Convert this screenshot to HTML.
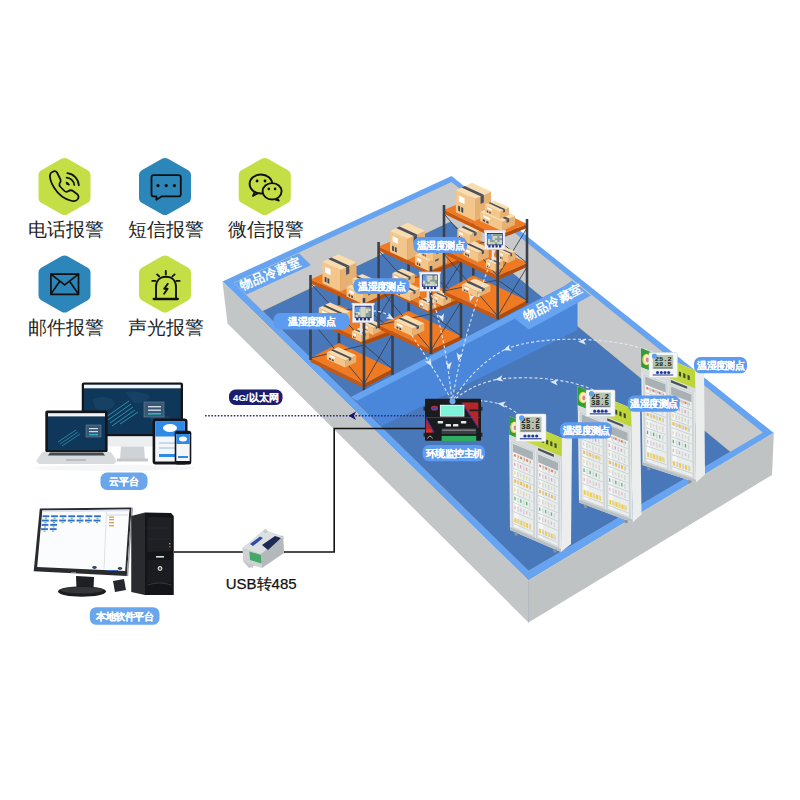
<!DOCTYPE html>
<html><head><meta charset="utf-8"><style>
html,body{margin:0;padding:0;background:#fff;width:800px;height:800px;overflow:hidden;font-family:"Liberation Sans",sans-serif}
svg{position:absolute;left:0;top:0;display:block}
</style></head><body>
<svg width="800" height="800" viewBox="0 0 800 800">
<polygon points="222.5,281.5 528.5,580.5 528.5,622.5 227.5,323.5" fill="#c2c6c7" />
<polygon points="528.5,580.5 773.8,433.0 772.0,475.0 528.5,622.5" fill="#bfc3c4" />
<line x1="528.5" y1="580.5" x2="528.5" y2="622.5" stroke="#a9b3bd" stroke-width="0.8" />
<polygon points="222.5,281.5 451.5,176.0 773.8,433.0 528.5,580.5" fill="#66a4f2" />
<polyline points="222.5,281.5 528.5,580.5 773.8,433.0" fill="none" stroke="#d8ccb0" stroke-width="0.7"/>
<defs><clipPath id="inner"><polygon points="234.0,283.0 451.5,182.5 762.5,432.7 528.5,570.8"/></clipPath></defs>
<polygon points="234.0,283.0 451.5,182.5 762.5,432.7 528.5,570.8" fill="#c8c9ca" />
<g clip-path="url(#inner)">
<polygon points="150.3,364.1 450.3,221.3 850.3,550.1 600.0,800.0 100.0,500.0" fill="#4978ba" />
<polyline points="150.3,364.1 450.3,221.3 850.3,550.1" fill="none" stroke="#d7cbb0" stroke-width="0.8"/>
</g>
<polyline points="234.0,283.0 451.5,182.5 762.5,432.7" fill="none" stroke="#d9ccb0" stroke-width="0.8"/>
<polygon points="234.0,283.0 299.0,253.2 311.0,265.2 246.5,294.5" fill="#66a4f2" />
<text transform="translate(242,290) rotate(-22.5)" font-size="12.5" font-weight="bold" fill="#fff" font-family="Liberation Sans, sans-serif">物品冷藏室</text>
<polygon points="337.7,262.0 340.3,262.0 340.3,344.0 337.7,344.0" fill="#3a414c" />
<polygon points="310.5,358.0 364.0,384.0 364.0,388.0 310.5,362.0" fill="#c9570f" />
<polygon points="364.0,384.0 392.5,369.0 392.5,373.0 364.0,388.0" fill="#b24a0a" />
<polygon points="310.5,358.0 364.0,384.0 392.5,369.0 339.0,343.0" fill="#ef7a22" />
<line x1="310.5" y1="320.0" x2="364.0" y2="384.0" stroke="#3a414c" stroke-width="0.9" />
<line x1="364.0" y1="345.0" x2="310.5" y2="358.0" stroke="#3a414c" stroke-width="0.9" />
<line x1="364.0" y1="345.0" x2="392.5" y2="369.0" stroke="#3a414c" stroke-width="0.9" />
<line x1="392.5" y1="334.0" x2="364.0" y2="384.0" stroke="#3a414c" stroke-width="0.9" />
<polygon points="345.0,367.5 326.8,359.2 326.8,352.2 345.0,360.5" fill="#f3c68c" />
<polygon points="345.0,367.5 356.2,362.2 356.2,355.2 345.0,360.5" fill="#e6b273" />
<polygon points="345.0,360.5 326.8,352.2 338.0,346.9 356.2,355.2" fill="#f9ddb0" />
<polygon points="348.9,358.6 351.2,357.6 333.0,349.3 330.7,350.3" fill="#4b505c" />
<polygon points="348.9,358.6 351.2,357.6 351.2,360.0 348.9,361.1" fill="#4b505c" />
<polygon points="335.0,357.2 329.5,354.7 329.5,356.6 335.0,359.1" fill="#ffffff" />
<polygon points="333.7,359.9 331.9,359.1 331.9,360.7 333.7,361.5" fill="#3f4654" />
<polygon points="330.8,358.6 329.0,357.7 329.0,359.3 330.8,360.2" fill="#3f4654" />
<polygon points="310.5,316.0 364.0,341.0 364.0,345.0 310.5,320.0" fill="#c9570f" />
<polygon points="364.0,341.0 392.5,330.0 392.5,334.0 364.0,345.0" fill="#b24a0a" />
<polygon points="310.5,316.0 364.0,341.0 392.5,330.0 339.0,305.0" fill="#ef7a22" />
<line x1="310.5" y1="283.5" x2="364.0" y2="341.0" stroke="#3a414c" stroke-width="0.9" />
<line x1="364.0" y1="307.0" x2="310.5" y2="316.0" stroke="#3a414c" stroke-width="0.9" />
<line x1="364.0" y1="307.0" x2="392.5" y2="330.0" stroke="#3a414c" stroke-width="0.9" />
<line x1="392.5" y1="294.0" x2="364.0" y2="341.0" stroke="#3a414c" stroke-width="0.9" />
<polygon points="338.8,324.4 318.8,315.2 318.8,307.7 338.8,316.9" fill="#f3c68c" />
<polygon points="338.8,324.4 350.0,319.1 350.0,311.6 338.8,316.9" fill="#e6b273" />
<polygon points="338.8,316.9 318.8,307.7 330.0,302.4 350.0,311.6" fill="#f9ddb0" />
<polygon points="342.7,315.0 344.9,314.0 324.9,304.8 322.7,305.9" fill="#4b505c" />
<polygon points="342.7,315.0 344.9,314.0 344.9,316.6 342.7,317.7" fill="#4b505c" />
<polygon points="327.8,313.2 321.8,310.5 321.8,312.5 327.8,315.2" fill="#ffffff" />
<polygon points="326.4,316.1 324.4,315.2 324.4,316.9 326.4,317.8" fill="#3f4654" />
<polygon points="323.2,314.6 321.2,313.7 321.2,315.4 323.2,316.4" fill="#3f4654" />
<polygon points="373.0,335.0 363.9,330.8 363.9,323.8 373.0,328.0" fill="#f3c68c" />
<polygon points="373.0,335.0 381.1,331.1 381.1,324.1 373.0,328.0" fill="#e6b273" />
<polygon points="373.0,328.0 363.9,323.8 372.0,320.0 381.1,324.1" fill="#f9ddb0" />
<polygon points="375.8,326.7 377.5,325.9 368.4,321.7 366.8,322.5" fill="#4b505c" />
<polygon points="375.8,326.7 377.5,325.9 377.5,328.3 375.8,329.1" fill="#4b505c" />
<polygon points="368.0,327.0 365.3,325.7 365.3,327.6 368.0,328.9" fill="#ffffff" />
<polygon points="367.4,330.0 366.5,329.6 366.5,331.2 367.4,331.6" fill="#3f4654" />
<polygon points="365.9,329.3 365.0,328.9 365.0,330.5 365.9,330.9" fill="#3f4654" />
<polygon points="361.0,342.0 351.9,337.8 351.9,331.3 361.0,335.5" fill="#f3c68c" />
<polygon points="361.0,342.0 369.1,338.1 369.1,331.6 361.0,335.5" fill="#e6b273" />
<polygon points="361.0,335.5 351.9,331.3 360.0,327.5 369.1,331.6" fill="#f9ddb0" />
<polygon points="363.8,334.2 365.5,333.4 356.4,329.2 354.8,330.0" fill="#4b505c" />
<polygon points="363.8,334.2 365.5,333.4 365.5,335.7 363.8,336.4" fill="#4b505c" />
<polygon points="356.0,334.4 353.3,333.1 353.3,334.9 356.0,336.1" fill="#ffffff" />
<polygon points="355.4,337.1 354.5,336.7 354.5,338.2 355.4,338.6" fill="#3f4654" />
<polygon points="353.9,336.5 353.0,336.1 353.0,337.6 353.9,338.0" fill="#3f4654" />
<polygon points="310.5,279.5 364.0,303.0 364.0,307.0 310.5,283.5" fill="#c9570f" />
<polygon points="364.0,303.0 392.5,290.0 392.5,294.0 364.0,307.0" fill="#b24a0a" />
<polygon points="310.5,279.5 364.0,303.0 392.5,290.0 339.0,266.5" fill="#ef7a22" />
<polygon points="340.5,291.5 322.5,283.3 322.5,261.8 340.5,270.0" fill="#f3c68c" />
<polygon points="340.5,291.5 356.5,283.9 356.5,262.4 340.5,270.0" fill="#e6b273" />
<polygon points="340.5,270.0 322.5,261.8 338.5,254.2 356.5,262.4" fill="#f9ddb0" />
<polygon points="346.1,267.3 349.3,265.8 331.3,257.6 328.1,259.1" fill="#4b505c" />
<polygon points="346.1,267.3 349.3,265.8 349.3,273.4 346.1,274.9" fill="#4b505c" />
<polygon points="330.6,269.3 325.2,266.9 325.2,272.7 330.6,275.1" fill="#ffffff" />
<polygon points="329.3,278.9 327.5,278.0 327.5,283.0 329.3,283.8" fill="#3f4654" />
<polygon points="326.5,277.6 324.7,276.7 324.7,281.7 326.5,282.5" fill="#3f4654" />
<polygon points="363.0,304.0 346.6,296.5 346.6,287.0 363.0,294.5" fill="#f3c68c" />
<polygon points="363.0,304.0 377.5,297.2 377.5,287.7 363.0,294.5" fill="#e6b273" />
<polygon points="363.0,294.5 346.6,287.0 361.1,280.2 377.5,287.7" fill="#f9ddb0" />
<polygon points="368.1,292.1 371.0,290.7 354.6,283.2 351.7,284.6" fill="#4b505c" />
<polygon points="368.1,292.1 371.0,290.7 371.0,294.1 368.1,295.4" fill="#4b505c" />
<polygon points="354.0,292.1 349.1,289.8 349.1,292.4 354.0,294.7" fill="#ffffff" />
<polygon points="352.9,296.0 351.2,295.3 351.2,297.5 352.9,298.2" fill="#3f4654" />
<polygon points="350.2,294.8 348.6,294.1 348.6,296.3 350.2,297.0" fill="#3f4654" />
<polygon points="366.0,293.0 352.4,286.8 352.4,278.8 366.0,285.0" fill="#f3c68c" />
<polygon points="366.0,293.0 375.9,288.3 375.9,280.3 366.0,285.0" fill="#e6b273" />
<polygon points="366.0,285.0 352.4,278.8 362.3,274.1 375.9,280.3" fill="#f9ddb0" />
<polygon points="369.5,283.4 371.5,282.4 357.8,276.2 355.8,277.1" fill="#4b505c" />
<polygon points="369.5,283.4 371.5,282.4 371.5,285.2 369.5,286.2" fill="#4b505c" />
<polygon points="358.5,283.0 354.4,281.1 354.4,283.3 358.5,285.2" fill="#ffffff" />
<polygon points="357.5,286.3 356.2,285.7 356.2,287.5 357.5,288.2" fill="#3f4654" />
<polygon points="355.4,285.3 354.0,284.7 354.0,286.5 355.4,287.2" fill="#3f4654" />
<polygon points="309.2,275.0 311.8,275.0 311.8,360.0 309.2,360.0" fill="#3a414c" />
<polygon points="391.2,285.0 393.8,285.0 393.8,375.0 391.2,375.0" fill="#3a414c" />
<polygon points="362.7,298.0 365.3,298.0 365.3,391.0 362.7,391.0" fill="#3a414c" />
<polygon points="407.3,230.0 409.9,230.0 409.9,312.0 407.3,312.0" fill="#3a414c" />
<polygon points="378.6,325.0 431.0,350.0 431.0,354.0 378.6,329.0" fill="#c9570f" />
<polygon points="431.0,350.0 461.0,336.0 461.0,340.0 431.0,354.0" fill="#b24a0a" />
<polygon points="378.6,325.0 431.0,350.0 461.0,336.0 408.6,311.0" fill="#ef7a22" />
<line x1="378.6" y1="287.0" x2="431.0" y2="350.0" stroke="#3a414c" stroke-width="0.9" />
<line x1="431.0" y1="314.0" x2="378.6" y2="325.0" stroke="#3a414c" stroke-width="0.9" />
<line x1="431.0" y1="314.0" x2="461.0" y2="336.0" stroke="#3a414c" stroke-width="0.9" />
<line x1="461.0" y1="302.0" x2="431.0" y2="350.0" stroke="#3a414c" stroke-width="0.9" />
<polygon points="412.5,336.2 394.3,327.9 394.3,320.4 412.5,328.8" fill="#f3c68c" />
<polygon points="412.5,336.2 424.3,330.7 424.3,323.2 412.5,328.8" fill="#e6b273" />
<polygon points="412.5,328.8 394.3,320.4 406.1,314.9 424.3,323.2" fill="#f9ddb0" />
<polygon points="416.6,326.8 419.0,325.7 400.8,317.4 398.4,318.5" fill="#4b505c" />
<polygon points="416.6,326.8 419.0,325.7 419.0,328.3 416.6,329.4" fill="#4b505c" />
<polygon points="402.5,325.5 397.0,323.0 397.0,325.1 402.5,327.5" fill="#ffffff" />
<polygon points="401.2,328.5 399.4,327.6 399.4,329.4 401.2,330.2" fill="#3f4654" />
<polygon points="398.3,327.1 396.5,326.3 396.5,328.0 398.3,328.9" fill="#3f4654" />
<polygon points="378.6,283.0 431.0,310.0 431.0,314.0 378.6,287.0" fill="#c9570f" />
<polygon points="431.0,310.0 461.0,298.0 461.0,302.0 431.0,314.0" fill="#b24a0a" />
<polygon points="378.6,283.0 431.0,310.0 461.0,298.0 408.6,271.0" fill="#ef7a22" />
<line x1="378.6" y1="250.5" x2="431.0" y2="310.0" stroke="#3a414c" stroke-width="0.9" />
<line x1="431.0" y1="275.0" x2="378.6" y2="283.0" stroke="#3a414c" stroke-width="0.9" />
<line x1="431.0" y1="275.0" x2="461.0" y2="298.0" stroke="#3a414c" stroke-width="0.9" />
<line x1="461.0" y1="262.5" x2="431.0" y2="310.0" stroke="#3a414c" stroke-width="0.9" />
<polygon points="405.0,287.0 392.3,281.2 392.3,273.2 405.0,279.0" fill="#f3c68c" />
<polygon points="405.0,287.0 414.9,282.3 414.9,274.3 405.0,279.0" fill="#e6b273" />
<polygon points="405.0,279.0 392.3,273.2 402.2,268.5 414.9,274.3" fill="#f9ddb0" />
<polygon points="408.5,277.4 410.5,276.4 397.7,270.6 395.8,271.5" fill="#4b505c" />
<polygon points="408.5,277.4 410.5,276.4 410.5,279.2 408.5,280.2" fill="#4b505c" />
<polygon points="398.0,277.2 394.2,275.5 394.2,277.6 398.0,279.4" fill="#ffffff" />
<polygon points="397.1,280.6 395.8,280.0 395.8,281.8 397.1,282.4" fill="#3f4654" />
<polygon points="395.1,279.7 393.8,279.1 393.8,280.9 395.1,281.5" fill="#3f4654" />
<polygon points="443.0,306.0 433.0,301.4 433.0,294.4 443.0,299.0" fill="#f3c68c" />
<polygon points="443.0,306.0 451.1,302.1 451.1,295.1 443.0,299.0" fill="#e6b273" />
<polygon points="443.0,299.0 433.0,294.4 441.1,290.6 451.1,295.1" fill="#f9ddb0" />
<polygon points="445.8,297.7 447.5,296.9 437.5,292.3 435.8,293.1" fill="#4b505c" />
<polygon points="445.8,297.7 447.5,296.9 447.5,299.3 445.8,300.1" fill="#4b505c" />
<polygon points="437.5,297.7 434.5,296.4 434.5,298.3 437.5,299.6" fill="#ffffff" />
<polygon points="436.8,300.7 435.8,300.3 435.8,301.9 436.8,302.3" fill="#3f4654" />
<polygon points="435.2,300.0 434.2,299.5 434.2,301.1 435.2,301.6" fill="#3f4654" />
<polygon points="410.0,301.0 393.6,293.5 393.6,285.5 410.0,293.0" fill="#f3c68c" />
<polygon points="410.0,301.0 419.9,296.3 419.9,288.3 410.0,293.0" fill="#e6b273" />
<polygon points="410.0,293.0 393.6,285.5 403.6,280.8 419.9,288.3" fill="#f9ddb0" />
<polygon points="413.5,291.4 415.5,290.4 399.1,282.9 397.1,283.9" fill="#4b505c" />
<polygon points="413.5,291.4 415.5,290.4 415.5,293.2 413.5,294.2" fill="#4b505c" />
<polygon points="401.0,290.3 396.1,288.1 396.1,290.2 401.0,292.5" fill="#ffffff" />
<polygon points="399.9,293.6 398.2,292.8 398.2,294.6 399.9,295.4" fill="#3f4654" />
<polygon points="397.2,292.4 395.6,291.6 395.6,293.5 397.2,294.2" fill="#3f4654" />
<polygon points="428.0,311.0 418.9,306.8 418.9,300.8 428.0,305.0" fill="#f3c68c" />
<polygon points="428.0,311.0 436.1,307.1 436.1,301.1 428.0,305.0" fill="#e6b273" />
<polygon points="428.0,305.0 418.9,300.8 427.0,297.0 436.1,301.1" fill="#f9ddb0" />
<polygon points="430.8,303.7 432.5,302.9 423.4,298.7 421.8,299.5" fill="#4b505c" />
<polygon points="430.8,303.7 432.5,302.9 432.5,305.0 430.8,305.8" fill="#4b505c" />
<polygon points="423.0,303.8 420.3,302.5 420.3,304.2 423.0,305.4" fill="#ffffff" />
<polygon points="422.4,306.3 421.5,305.9 421.5,307.3 422.4,307.7" fill="#3f4654" />
<polygon points="420.9,305.7 420.0,305.2 420.0,306.6 420.9,307.0" fill="#3f4654" />
<polygon points="378.6,246.5 431.0,271.0 431.0,275.0 378.6,250.5" fill="#c9570f" />
<polygon points="431.0,271.0 461.0,258.5 461.0,262.5 431.0,275.0" fill="#b24a0a" />
<polygon points="378.6,246.5 431.0,271.0 461.0,258.5 408.6,234.0" fill="#ef7a22" />
<polygon points="407.5,260.0 390.0,252.0 390.0,231.0 407.5,239.0" fill="#f3c68c" />
<polygon points="407.5,260.0 425.0,251.7 425.0,230.7 407.5,239.0" fill="#e6b273" />
<polygon points="407.5,239.0 390.0,231.0 407.5,222.7 425.0,230.7" fill="#f9ddb0" />
<polygon points="413.6,236.1 417.1,234.4 399.6,226.4 396.1,228.1" fill="#4b505c" />
<polygon points="413.6,236.1 417.1,234.4 417.1,241.8 413.6,243.4" fill="#4b505c" />
<polygon points="397.9,238.4 392.6,236.0 392.6,241.6 397.9,244.0" fill="#ffffff" />
<polygon points="396.7,247.7 394.9,246.9 394.9,251.7 396.7,252.5" fill="#3f4654" />
<polygon points="393.9,246.4 392.1,245.6 392.1,250.4 393.9,251.2" fill="#3f4654" />
<polygon points="428.8,271.2 415.1,265.0 415.1,255.0 428.8,261.2" fill="#f3c68c" />
<polygon points="428.8,271.2 446.8,262.7 446.8,252.7 428.8,261.2" fill="#e6b273" />
<polygon points="428.8,261.2 415.1,255.0 433.2,246.4 446.8,252.7" fill="#f9ddb0" />
<polygon points="435.1,258.3 438.7,256.5 425.1,250.3 421.4,252.0" fill="#4b505c" />
<polygon points="435.1,258.3 438.7,256.5 438.7,260.0 435.1,261.8" fill="#4b505c" />
<polygon points="421.3,259.6 417.2,257.7 417.2,260.4 421.3,262.3" fill="#ffffff" />
<polygon points="420.3,263.9 418.9,263.3 418.9,265.6 420.3,266.2" fill="#3f4654" />
<polygon points="418.1,262.9 416.8,262.3 416.8,264.6 418.1,265.2" fill="#3f4654" />
<polygon points="433.0,261.0 421.2,255.6 421.2,247.6 433.0,253.0" fill="#f3c68c" />
<polygon points="433.0,261.0 442.9,256.3 442.9,248.3 433.0,253.0" fill="#e6b273" />
<polygon points="433.0,253.0 421.2,247.6 431.1,242.9 442.9,248.3" fill="#f9ddb0" />
<polygon points="436.5,251.4 438.5,250.4 426.7,245.0 424.7,245.9" fill="#4b505c" />
<polygon points="436.5,251.4 438.5,250.4 438.5,253.2 436.5,254.2" fill="#4b505c" />
<polygon points="426.5,251.5 423.0,249.8 423.0,252.0 426.5,253.6" fill="#ffffff" />
<polygon points="425.7,254.8 424.5,254.3 424.5,256.1 425.7,256.7" fill="#3f4654" />
<polygon points="423.8,254.0 422.6,253.4 422.6,255.3 423.8,255.8" fill="#3f4654" />
<polygon points="377.3,242.0 379.9,242.0 379.9,328.0 377.3,328.0" fill="#3a414c" />
<polygon points="459.7,254.0 462.3,254.0 462.3,338.0 459.7,338.0" fill="#3a414c" />
<polygon points="429.7,266.0 432.3,266.0 432.3,354.0 429.7,354.0" fill="#3a414c" />
<polygon points="472.0,193.0 474.6,193.0 474.6,276.5 472.0,276.5" fill="#3a414c" />
<polygon points="444.0,291.0 497.7,316.0 497.7,320.0 444.0,295.0" fill="#c9570f" />
<polygon points="497.7,316.0 527.0,300.5 527.0,304.5 497.7,320.0" fill="#b24a0a" />
<polygon points="444.0,291.0 497.7,316.0 527.0,300.5 473.3,275.5" fill="#ef7a22" />
<line x1="444.0" y1="254.0" x2="497.7" y2="316.0" stroke="#3a414c" stroke-width="0.9" />
<line x1="497.7" y1="280.0" x2="444.0" y2="291.0" stroke="#3a414c" stroke-width="0.9" />
<line x1="497.7" y1="280.0" x2="527.0" y2="300.5" stroke="#3a414c" stroke-width="0.9" />
<line x1="527.0" y1="267.0" x2="497.7" y2="316.0" stroke="#3a414c" stroke-width="0.9" />
<polygon points="477.4,297.6 461.9,290.5 461.9,284.5 477.4,291.6" fill="#f3c68c" />
<polygon points="477.4,297.6 490.4,291.4 490.4,285.4 477.4,291.6" fill="#e6b273" />
<polygon points="477.4,291.6 461.9,284.5 475.0,278.4 490.4,285.4" fill="#f9ddb0" />
<polygon points="482.0,289.4 484.6,288.2 469.1,281.1 466.5,282.4" fill="#4b505c" />
<polygon points="482.0,289.4 484.6,288.2 484.6,290.3 482.0,291.5" fill="#4b505c" />
<polygon points="468.9,288.8 464.3,286.7 464.3,288.3 468.9,290.4" fill="#ffffff" />
<polygon points="467.8,291.1 466.3,290.4 466.3,291.8 467.8,292.5" fill="#3f4654" />
<polygon points="465.3,290.0 463.8,289.3 463.8,290.7 465.3,291.4" fill="#3f4654" />
<polygon points="444.0,250.0 497.7,276.0 497.7,280.0 444.0,254.0" fill="#c9570f" />
<polygon points="497.7,276.0 527.0,263.0 527.0,267.0 497.7,280.0" fill="#b24a0a" />
<polygon points="444.0,250.0 497.7,276.0 527.0,263.0 473.3,237.0" fill="#ef7a22" />
<line x1="444.0" y1="213.8" x2="497.7" y2="276.0" stroke="#3a414c" stroke-width="0.9" />
<line x1="497.7" y1="239.8" x2="444.0" y2="250.0" stroke="#3a414c" stroke-width="0.9" />
<line x1="497.7" y1="239.8" x2="527.0" y2="263.0" stroke="#3a414c" stroke-width="0.9" />
<line x1="527.0" y1="228.0" x2="497.7" y2="276.0" stroke="#3a414c" stroke-width="0.9" />
<polygon points="470.0,244.0 457.3,238.2 457.3,229.2 470.0,235.0" fill="#f3c68c" />
<polygon points="470.0,244.0 481.8,238.4 481.8,229.4 470.0,235.0" fill="#e6b273" />
<polygon points="470.0,235.0 457.3,229.2 469.0,223.6 481.8,229.4" fill="#f9ddb0" />
<polygon points="474.1,233.1 476.5,231.9 463.7,226.1 461.4,227.2" fill="#4b505c" />
<polygon points="474.1,233.1 476.5,231.9 476.5,235.1 474.1,236.2" fill="#4b505c" />
<polygon points="463.0,233.4 459.2,231.7 459.2,234.1 463.0,235.8" fill="#ffffff" />
<polygon points="462.1,237.2 460.8,236.7 460.8,238.7 462.1,239.3" fill="#3f4654" />
<polygon points="460.1,236.3 458.8,235.7 458.8,237.8 460.1,238.4" fill="#3f4654" />
<polygon points="508.0,263.0 498.9,258.8 498.9,250.8 508.0,255.0" fill="#f3c68c" />
<polygon points="508.0,263.0 515.2,259.6 515.2,251.6 508.0,255.0" fill="#e6b273" />
<polygon points="508.0,255.0 498.9,250.8 506.1,247.4 515.2,251.6" fill="#f9ddb0" />
<polygon points="510.5,253.8 512.0,253.1 502.9,249.0 501.4,249.6" fill="#4b505c" />
<polygon points="510.5,253.8 512.0,253.1 512.0,255.9 510.5,256.6" fill="#4b505c" />
<polygon points="503.0,254.2 500.3,252.9 500.3,255.1 503.0,256.3" fill="#ffffff" />
<polygon points="502.4,257.6 501.5,257.2 501.5,259.0 502.4,259.5" fill="#3f4654" />
<polygon points="500.9,257.0 500.0,256.5 500.0,258.4 500.9,258.8" fill="#3f4654" />
<polygon points="478.0,262.0 463.5,255.3 463.5,246.3 478.0,253.0" fill="#f3c68c" />
<polygon points="478.0,262.0 488.8,256.9 488.8,247.9 478.0,253.0" fill="#e6b273" />
<polygon points="478.0,253.0 463.5,246.3 474.3,241.2 488.8,247.9" fill="#f9ddb0" />
<polygon points="481.8,251.2 484.0,250.2 469.4,243.5 467.3,244.5" fill="#4b505c" />
<polygon points="481.8,251.2 484.0,250.2 484.0,253.3 481.8,254.4" fill="#4b505c" />
<polygon points="470.0,251.0 465.6,249.0 465.6,251.4 470.0,253.4" fill="#ffffff" />
<polygon points="469.0,254.7 467.5,254.1 467.5,256.1 469.0,256.8" fill="#3f4654" />
<polygon points="466.7,253.7 465.2,253.0 465.2,255.1 466.7,255.7" fill="#3f4654" />
<polygon points="495.0,271.5 485.9,267.3 485.9,260.3 495.0,264.5" fill="#f3c68c" />
<polygon points="495.0,271.5 503.1,267.6 503.1,260.6 495.0,264.5" fill="#e6b273" />
<polygon points="495.0,264.5 485.9,260.3 494.0,256.5 503.1,260.6" fill="#f9ddb0" />
<polygon points="497.8,263.2 499.5,262.4 490.4,258.2 488.8,259.0" fill="#4b505c" />
<polygon points="497.8,263.2 499.5,262.4 499.5,264.8 497.8,265.6" fill="#4b505c" />
<polygon points="490.0,263.5 487.3,262.2 487.3,264.1 490.0,265.4" fill="#ffffff" />
<polygon points="489.4,266.5 488.5,266.1 488.5,267.7 489.4,268.1" fill="#3f4654" />
<polygon points="487.9,265.8 487.0,265.4 487.0,267.0 487.9,267.4" fill="#3f4654" />
<polygon points="444.0,209.8 497.7,235.8 497.7,239.8 444.0,213.8" fill="#c9570f" />
<polygon points="497.7,235.8 527.0,224.0 527.0,228.0 497.7,239.8" fill="#b24a0a" />
<polygon points="444.0,209.8 497.7,235.8 527.0,224.0 473.3,197.9" fill="#ef7a22" />
<polygon points="475.0,221.0 455.9,212.3 455.9,190.3 475.0,199.0" fill="#f3c68c" />
<polygon points="475.0,221.0 491.0,213.4 491.0,191.4 475.0,199.0" fill="#e6b273" />
<polygon points="475.0,199.0 455.9,190.3 471.9,182.7 491.0,191.4" fill="#f9ddb0" />
<polygon points="480.6,196.3 483.8,194.8 464.7,186.1 461.5,187.6" fill="#4b505c" />
<polygon points="480.6,196.3 483.8,194.8 483.8,202.5 480.6,204.0" fill="#4b505c" />
<polygon points="464.5,198.2 458.8,195.5 458.8,201.5 464.5,204.1" fill="#ffffff" />
<polygon points="463.2,207.9 461.3,207.0 461.3,212.1 463.2,212.9" fill="#3f4654" />
<polygon points="460.1,206.5 458.2,205.6 458.2,210.7 460.1,211.5" fill="#3f4654" />
<polygon points="502.0,231.0 480.2,221.0 480.2,212.0 502.0,222.0" fill="#f3c68c" />
<polygon points="502.0,231.0 515.0,224.8 515.0,215.8 502.0,222.0" fill="#e6b273" />
<polygon points="502.0,222.0 480.2,212.0 493.2,205.9 515.0,215.8" fill="#f9ddb0" />
<polygon points="506.6,219.8 509.2,218.6 487.3,208.6 484.7,209.9" fill="#4b505c" />
<polygon points="506.6,219.8 509.2,218.6 509.2,221.8 506.6,223.0" fill="#4b505c" />
<polygon points="490.0,218.1 483.5,215.1 483.5,217.6 490.0,220.6" fill="#ffffff" />
<polygon points="488.5,221.7 486.3,220.7 486.3,222.7 488.5,223.7" fill="#3f4654" />
<polygon points="485.0,220.1 482.8,219.1 482.8,221.1 485.0,222.1" fill="#3f4654" />
<polygon points="500.0,219.0 485.0,212.1 485.0,204.6 500.0,211.5" fill="#f3c68c" />
<polygon points="500.0,219.0 509.0,214.7 509.0,207.2 500.0,211.5" fill="#e6b273" />
<polygon points="500.0,211.5 485.0,204.6 494.0,200.4 509.0,207.2" fill="#f9ddb0" />
<polygon points="503.2,210.0 505.0,209.1 490.0,202.3 488.2,203.1" fill="#4b505c" />
<polygon points="503.2,210.0 505.0,209.1 505.0,211.8 503.2,212.6" fill="#4b505c" />
<polygon points="491.8,209.1 487.3,207.0 487.3,209.0 491.8,211.1" fill="#ffffff" />
<polygon points="490.7,212.1 489.2,211.4 489.2,213.2 490.7,213.8" fill="#3f4654" />
<polygon points="488.3,211.0 486.8,210.3 486.8,212.1 488.3,212.7" fill="#3f4654" />
<polygon points="442.7,205.0 445.3,205.0 445.3,293.0 442.7,293.0" fill="#3a414c" />
<polygon points="525.7,219.0 528.3,219.0 528.3,303.0 525.7,303.0" fill="#3a414c" />
<polygon points="496.4,231.0 499.0,231.0 499.0,319.5 496.4,319.5" fill="#3a414c" />
<polygon points="351.0,397.0 570.0,283.2 577.5,286.3 577.5,330.2 381.8,426.0" fill="#4a86da" />
<polygon points="351.0,397.0 570.0,283.2 577.5,286.3 357.0,400.7" fill="#66a4f2" />
<polygon points="515.0,318.7 528.8,329.4 591.0,295.5 572.0,280.5 565.0,285.8" fill="#66a4f2" />
<text transform="translate(526,320.5) rotate(-27)" font-size="12.5" font-weight="bold" fill="#fff" font-family="Liberation Sans, sans-serif">物品冷藏室</text>
<rect x="359.9" y="322.5" width="2.4" height="11" fill="#dfe3e8"/>
<rect x="351.7" y="302.9" width="22.9" height="2" fill="#e9edf2"/>
<rect x="352.5" y="303.8" width="21.2" height="18.8" fill="#f1f4f7" stroke="#c5ccd4" stroke-width="0.5"/>
<rect x="354.7" y="305.8" width="16.9" height="12.4" fill="#2b3a86"/>
<rect x="355.5" y="306.8" width="15.2" height="10.4" fill="#8d9c96"/>
<rect x="355.5" y="308.8" width="2.5" height="2.1" fill="#d4dcc8"/>
<rect x="355.5" y="310.9" width="2.5" height="2.1" fill="#d4dcc8"/>
<rect x="355.5" y="315.1" width="2.5" height="2.1" fill="#d4dcc8"/>
<rect x="358.0" y="308.8" width="2.5" height="2.1" fill="#d4dcc8"/>
<rect x="358.0" y="310.9" width="2.5" height="2.1" fill="#d4dcc8"/>
<rect x="358.0" y="313.0" width="2.5" height="2.1" fill="#d4dcc8"/>
<rect x="360.6" y="306.8" width="2.5" height="2.1" fill="#d4dcc8"/>
<rect x="360.6" y="308.8" width="2.5" height="2.1" fill="#d4dcc8"/>
<rect x="360.6" y="310.9" width="2.5" height="2.1" fill="#d4dcc8"/>
<rect x="360.6" y="313.0" width="2.5" height="2.1" fill="#d4dcc8"/>
<rect x="360.6" y="315.1" width="2.5" height="2.1" fill="#d4dcc8"/>
<rect x="363.1" y="306.8" width="2.5" height="2.1" fill="#d4dcc8"/>
<rect x="363.1" y="308.8" width="2.5" height="2.1" fill="#d4dcc8"/>
<rect x="363.1" y="310.9" width="2.5" height="2.1" fill="#d4dcc8"/>
<rect x="363.1" y="313.0" width="2.5" height="2.1" fill="#d4dcc8"/>
<rect x="363.1" y="315.1" width="2.5" height="2.1" fill="#d4dcc8"/>
<rect x="365.7" y="308.8" width="2.5" height="2.1" fill="#d4dcc8"/>
<rect x="365.7" y="310.9" width="2.5" height="2.1" fill="#d4dcc8"/>
<rect x="368.2" y="308.8" width="2.5" height="2.1" fill="#d4dcc8"/>
<rect x="355.5" y="306.8" width="4.1" height="5.2" fill="#5a9af0"/>
<rect x="356.1" y="318.0" width="2.4" height="2.4" fill="#24358a"/>
<rect x="359.9" y="318.0" width="2.4" height="2.4" fill="#24358a"/>
<rect x="363.7" y="318.0" width="2.4" height="2.4" fill="#24358a"/>
<rect x="367.5" y="318.0" width="2.4" height="2.4" fill="#24358a"/>
<rect x="426.7" y="291.2" width="2.4" height="11" fill="#dfe3e8"/>
<rect x="418.9" y="271.7" width="21.9" height="2" fill="#e9edf2"/>
<rect x="419.8" y="272.5" width="20.2" height="18.7" fill="#f1f4f7" stroke="#c5ccd4" stroke-width="0.5"/>
<rect x="421.9" y="274.5" width="15.8" height="12.3" fill="#2b3a86"/>
<rect x="422.8" y="275.5" width="14.2" height="10.3" fill="#8d9c96"/>
<rect x="422.8" y="279.6" width="2.4" height="2.1" fill="#d4dcc8"/>
<rect x="422.8" y="281.7" width="2.4" height="2.1" fill="#d4dcc8"/>
<rect x="425.1" y="275.5" width="2.4" height="2.1" fill="#d4dcc8"/>
<rect x="425.1" y="277.6" width="2.4" height="2.1" fill="#d4dcc8"/>
<rect x="425.1" y="283.8" width="2.4" height="2.1" fill="#d4dcc8"/>
<rect x="427.5" y="275.5" width="2.4" height="2.1" fill="#d4dcc8"/>
<rect x="427.5" y="277.6" width="2.4" height="2.1" fill="#d4dcc8"/>
<rect x="427.5" y="279.6" width="2.4" height="2.1" fill="#d4dcc8"/>
<rect x="427.5" y="283.8" width="2.4" height="2.1" fill="#d4dcc8"/>
<rect x="429.9" y="275.5" width="2.4" height="2.1" fill="#d4dcc8"/>
<rect x="429.9" y="277.6" width="2.4" height="2.1" fill="#d4dcc8"/>
<rect x="429.9" y="281.7" width="2.4" height="2.1" fill="#d4dcc8"/>
<rect x="429.9" y="283.8" width="2.4" height="2.1" fill="#d4dcc8"/>
<rect x="432.2" y="281.7" width="2.4" height="2.1" fill="#d4dcc8"/>
<rect x="432.2" y="283.8" width="2.4" height="2.1" fill="#d4dcc8"/>
<rect x="434.6" y="275.5" width="2.4" height="2.1" fill="#d4dcc8"/>
<rect x="434.6" y="277.6" width="2.4" height="2.1" fill="#d4dcc8"/>
<rect x="434.6" y="283.8" width="2.4" height="2.1" fill="#d4dcc8"/>
<rect x="422.8" y="275.5" width="3.8" height="5.2" fill="#5a9af0"/>
<rect x="423.4" y="286.7" width="2.2" height="2.4" fill="#24358a"/>
<rect x="426.9" y="286.7" width="2.2" height="2.4" fill="#24358a"/>
<rect x="430.5" y="286.7" width="2.2" height="2.4" fill="#24358a"/>
<rect x="434.0" y="286.7" width="2.2" height="2.4" fill="#24358a"/>
<rect x="491.7" y="249.6" width="2.4" height="11" fill="#dfe3e8"/>
<rect x="483.9" y="230.2" width="21.9" height="2" fill="#e9edf2"/>
<rect x="484.7" y="231.0" width="20.3" height="18.6" fill="#f1f4f7" stroke="#c5ccd4" stroke-width="0.5"/>
<rect x="486.9" y="233.0" width="15.9" height="12.3" fill="#2b3a86"/>
<rect x="487.7" y="234.0" width="14.3" height="10.3" fill="#8d9c96"/>
<rect x="487.7" y="236.1" width="2.4" height="2.1" fill="#d4dcc8"/>
<rect x="487.7" y="238.1" width="2.4" height="2.1" fill="#d4dcc8"/>
<rect x="487.7" y="240.2" width="2.4" height="2.1" fill="#d4dcc8"/>
<rect x="487.7" y="242.2" width="2.4" height="2.1" fill="#d4dcc8"/>
<rect x="490.1" y="234.0" width="2.4" height="2.1" fill="#d4dcc8"/>
<rect x="490.1" y="242.2" width="2.4" height="2.1" fill="#d4dcc8"/>
<rect x="492.5" y="236.1" width="2.4" height="2.1" fill="#d4dcc8"/>
<rect x="492.5" y="238.1" width="2.4" height="2.1" fill="#d4dcc8"/>
<rect x="492.5" y="242.2" width="2.4" height="2.1" fill="#d4dcc8"/>
<rect x="494.9" y="236.1" width="2.4" height="2.1" fill="#d4dcc8"/>
<rect x="494.9" y="240.2" width="2.4" height="2.1" fill="#d4dcc8"/>
<rect x="497.2" y="242.2" width="2.4" height="2.1" fill="#d4dcc8"/>
<rect x="499.6" y="236.1" width="2.4" height="2.1" fill="#d4dcc8"/>
<rect x="499.6" y="240.2" width="2.4" height="2.1" fill="#d4dcc8"/>
<rect x="499.6" y="242.2" width="2.4" height="2.1" fill="#d4dcc8"/>
<rect x="487.7" y="234.0" width="3.8" height="5.1" fill="#5a9af0"/>
<rect x="488.3" y="245.1" width="2.2" height="2.4" fill="#24358a"/>
<rect x="491.9" y="245.1" width="2.2" height="2.4" fill="#24358a"/>
<rect x="495.5" y="245.1" width="2.2" height="2.4" fill="#24358a"/>
<rect x="499.0" y="245.1" width="2.2" height="2.4" fill="#24358a"/>
<path d="M662,356 C620,335 540,335 506,349 C480,362 462,385 452,402" fill="none" stroke="#dfe9fb" stroke-width="1.1" stroke-dasharray="3 2.2" opacity="0.95"/>
<path transform="translate(582.0,341.5) rotate(180)" d="M4,0 L-4,-3.2 L-2,0 L-4,3.2 Z" fill="#dde8fb"/>
<path transform="translate(507.0,349.0) rotate(160)" d="M4,0 L-4,-3.2 L-2,0 L-4,3.2 Z" fill="#dde8fb"/>
<path d="M598,392 C570,378 530,376 499,379 C478,383 462,392 452,402" fill="none" stroke="#dfe9fb" stroke-width="1.1" stroke-dasharray="3 2.2" opacity="0.95"/>
<path transform="translate(554.0,382.0) rotate(185)" d="M4,0 L-4,-3.2 L-2,0 L-4,3.2 Z" fill="#dde8fb"/>
<path transform="translate(499.0,379.0) rotate(170)" d="M4,0 L-4,-3.2 L-2,0 L-4,3.2 Z" fill="#dde8fb"/>
<path d="M520,416 C505,402 485,398 452,402" fill="none" stroke="#dfe9fb" stroke-width="1.1" stroke-dasharray="3 2.2" opacity="0.95"/>
<path transform="translate(501.5,404.0) rotate(190)" d="M4,0 L-4,-3.2 L-2,0 L-4,3.2 Z" fill="#dde8fb"/>
<path d="M373,311 Q383,311 391,317" fill="none" stroke="#dfe9fb" stroke-width="1.1" stroke-dasharray="3 2.2" opacity="0.95"/>
<path transform="translate(390.6,317.4) rotate(30)" d="M4,0 L-4,-3.2 L-2,0 L-4,3.2 Z" fill="#dde8fb"/>
<path d="M411.8,335.3 Q432,365 452,401" fill="none" stroke="#dfe9fb" stroke-width="1.1" stroke-dasharray="3 2.2" opacity="0.95"/>
<path transform="translate(429.7,363.0) rotate(58)" d="M4,0 L-4,-3.2 L-2,0 L-4,3.2 Z" fill="#dde8fb"/>
<path d="M430,290 C440,320 448,360 452,402" fill="none" stroke="#dfe9fb" stroke-width="1.1" stroke-dasharray="3 2.2" opacity="0.95"/>
<path transform="translate(442.0,318.0) rotate(75)" d="M4,0 L-4,-3.2 L-2,0 L-4,3.2 Z" fill="#dde8fb"/>
<path transform="translate(449.0,366.0) rotate(85)" d="M4,0 L-4,-3.2 L-2,0 L-4,3.2 Z" fill="#dde8fb"/>
<path d="M495,250 C480,290 462,340 452,402" fill="none" stroke="#dfe9fb" stroke-width="1.1" stroke-dasharray="3 2.2" opacity="0.95"/>
<path transform="translate(471.0,298.0) rotate(105)" d="M4,0 L-4,-3.2 L-2,0 L-4,3.2 Z" fill="#dde8fb"/>
<path transform="translate(459.0,357.0) rotate(100)" d="M4,0 L-4,-3.2 L-2,0 L-4,3.2 Z" fill="#dde8fb"/>
<polygon points="695.0,370.0 704.0,366.0 705.0,474.5 696.0,482.5" fill="#eceeee" />
<polygon points="641.0,348.0 695.0,370.0 696.0,482.5 642.5,465.0" fill="#e4e7e8" />
<linearGradient id="hg641" x1="0" y1="0" x2="1" y2="0"><stop offset="0" stop-color="#2f9a3a"/><stop offset="0.2" stop-color="#3aa23a"/><stop offset="0.22" stop-color="#c9dd47"/><stop offset="1" stop-color="#bcd43a"/></linearGradient>
<polygon points="641.0,348.0 695.0,370.0 695.2,388.6 641.2,367.3" fill="url(#hg641)" />
<ellipse cx="646.5" cy="359.5" rx="4.2" ry="5.8" fill="#e8d848"/><ellipse cx="647.1" cy="359.5" rx="3.2" ry="4.8" fill="#f6ece0"/><ellipse cx="647.3" cy="360.0" rx="1.6" ry="2.4" fill="#d88a7a"/>
<polygon points="674.6,369.6 676.7,370.5 676.8,375.1 674.6,374.2" fill="#3b4a30" />
<polygon points="678.9,371.4 681.0,372.2 681.1,376.8 678.9,375.9" fill="#3b4a30" />
<polygon points="683.2,373.1 685.4,374.0 685.4,378.5 683.2,377.6" fill="#3b4a30" />
<polygon points="687.5,374.8 689.7,375.7 689.7,380.2 687.6,379.4" fill="#3b4a30" />
<polygon points="641.2,367.3 695.2,388.6 695.2,393.1 641.3,372.0" fill="#d6dadb" />
<polygon points="670.9,380.1 687.1,386.5 687.1,388.8 670.9,382.4" fill="#4a4f55" />
<polygon points="642.9,373.2 667.7,382.9 668.7,470.7 644.1,462.6" fill="#cfd5d7" />
<polygon points="644.8,375.7 665.9,383.9 666.8,468.4 645.9,461.5" fill="#e9eded" />
<polygon points="646.3,385.0 650.6,386.6 651.5,462.2 647.2,460.7" fill="#f6f8f8" />
<polygon points="645.1,376.4 665.6,384.3 665.7,392.4 645.2,384.5" fill="#a9b1b4" />
<polygon points="646.3,386.7 648.5,387.5 648.5,389.9 646.3,389.0" fill="#e08060" />
<polygon points="649.4,387.9 651.5,388.7 651.5,391.0 649.4,390.2" fill="#e08060" />
<polygon points="652.4,389.0 654.6,389.9 654.6,392.2 652.4,391.4" fill="#e08060" />
<polygon points="655.5,390.2 657.6,391.0 657.6,393.3 655.5,392.5" fill="#e08060" />
<polygon points="658.5,391.4 660.7,392.2 660.7,394.5 658.5,393.7" fill="#e08060" />
<polygon points="661.6,392.5 663.7,393.4 663.7,395.7 661.6,394.8" fill="#e08060" />
<polygon points="645.3,392.1 665.8,399.9 665.8,400.8 645.3,393.1" fill="#c9d0d3" />
<polygon points="649.4,387.3 650.9,387.9 651.0,393.1 649.4,392.5" fill="#d2d8da" />
<polygon points="655.5,389.6 657.0,390.2 657.1,395.4 655.5,394.8" fill="#d2d8da" />
<polygon points="661.6,392.0 663.1,392.5 663.2,397.7 661.6,397.2" fill="#d2d8da" />
<polygon points="646.4,395.5 647.8,396.0 647.8,399.2 646.5,398.7" fill="#ee9ab2" />
<polygon points="652.5,397.7 653.9,398.3 653.9,401.5 652.6,401.0" fill="#ee9ab2" />
<polygon points="658.6,400.0 660.0,400.6 660.0,403.8 658.7,403.3" fill="#ee9ab2" />
<polygon points="645.4,400.9 665.9,408.5 665.9,409.4 645.4,401.8" fill="#c9d0d3" />
<polygon points="649.5,396.0 651.0,396.6 651.1,401.8 649.5,401.3" fill="#d2d8da" />
<polygon points="655.6,398.3 657.1,398.9 657.2,404.1 655.6,403.5" fill="#d2d8da" />
<polygon points="661.7,400.6 663.2,401.2 663.2,406.4 661.7,405.8" fill="#d2d8da" />
<polygon points="646.5,404.2 647.9,404.7 647.9,408.0 646.6,407.5" fill="#dedb9a" />
<polygon points="652.6,406.5 654.0,407.0 654.0,410.2 652.7,409.7" fill="#dedb9a" />
<polygon points="658.7,408.7 660.1,409.2 660.1,412.4 658.8,411.9" fill="#dedb9a" />
<polygon points="645.5,409.6 666.0,417.1 666.0,418.0 645.5,410.6" fill="#c9d0d3" />
<polygon points="649.6,404.7 651.1,405.3 651.2,410.5 649.6,410.0" fill="#d2d8da" />
<polygon points="655.7,407.0 657.2,407.6 657.3,412.8 655.7,412.2" fill="#d2d8da" />
<polygon points="661.8,409.3 663.3,409.8 663.3,415.0 661.8,414.4" fill="#d2d8da" />
<polygon points="646.6,412.4 648.8,413.1 648.8,416.6 646.7,415.9" fill="#f0bf4a" />
<polygon points="649.7,413.5 651.8,414.2 651.9,417.7 649.7,417.0" fill="#f0bf4a" />
<polygon points="652.7,414.6 654.9,415.4 654.9,418.8 652.8,418.1" fill="#f0bf4a" />
<polygon points="655.8,415.7 657.9,416.5 657.9,419.9 655.8,419.2" fill="#f0bf4a" />
<polygon points="658.8,416.8 660.9,417.6 661.0,421.0 658.9,420.3" fill="#f0bf4a" />
<polygon points="661.9,417.9 664.0,418.7 664.0,422.1 661.9,421.4" fill="#f0bf4a" />
<polygon points="645.6,417.8 666.0,425.2 666.1,426.1 645.6,418.7" fill="#c9d0d3" />
<polygon points="649.7,412.9 651.2,413.4 651.3,418.7 649.7,418.1" fill="#d2d8da" />
<polygon points="655.8,415.1 657.3,415.7 657.3,420.9 655.8,420.3" fill="#d2d8da" />
<polygon points="661.9,417.3 663.4,417.9 663.4,423.1 661.9,422.5" fill="#d2d8da" />
<polygon points="646.8,421.7 648.1,422.2 648.2,425.4 646.8,425.0" fill="#f2d89a" />
<polygon points="652.8,423.9 654.2,424.4 654.2,427.6 652.9,427.1" fill="#f2d89a" />
<polygon points="658.9,426.0 660.3,426.5 660.3,429.8 659.0,429.3" fill="#f2d89a" />
<polygon points="645.8,427.1 666.1,434.4 666.2,435.3 645.8,428.1" fill="#c9d0d3" />
<polygon points="649.8,422.2 651.3,422.7 651.4,428.0 649.9,427.4" fill="#d2d8da" />
<polygon points="655.9,424.4 657.4,424.9 657.5,430.1 655.9,429.6" fill="#d2d8da" />
<polygon points="662.0,426.6 663.5,427.1 663.5,432.3 662.0,431.7" fill="#d2d8da" />
<polygon points="646.9,430.4 648.2,430.9 648.3,434.4 646.9,433.9" fill="#5cb870" />
<polygon points="652.9,432.6 654.3,433.1 654.4,436.5 653.0,436.1" fill="#5cb870" />
<polygon points="659.0,434.7 660.4,435.2 660.4,438.7 659.1,438.2" fill="#5cb870" />
<polygon points="645.9,435.9 666.2,443.0 666.3,443.9 645.9,436.8" fill="#c9d0d3" />
<polygon points="649.9,430.9 651.4,431.5 651.5,436.7 650.0,436.2" fill="#d2d8da" />
<polygon points="656.0,433.1 657.5,433.6 657.6,438.8 656.0,438.3" fill="#d2d8da" />
<polygon points="662.1,435.2 663.6,435.7 663.6,440.9 662.1,440.4" fill="#d2d8da" />
<polygon points="647.0,439.8 648.3,440.2 648.4,443.5 647.0,443.0" fill="#eeb4c4" />
<polygon points="653.1,441.9 654.4,442.3 654.5,445.6 653.1,445.1" fill="#eeb4c4" />
<polygon points="659.1,444.0 660.5,444.4 660.5,447.7 659.2,447.2" fill="#eeb4c4" />
<polygon points="646.0,445.2 666.3,452.2 666.4,453.1 646.0,446.2" fill="#c9d0d3" />
<polygon points="650.0,440.2 651.5,440.8 651.6,446.0 650.1,445.5" fill="#d2d8da" />
<polygon points="656.1,442.3 657.6,442.9 657.7,448.1 656.1,447.5" fill="#d2d8da" />
<polygon points="662.2,444.4 663.7,445.0 663.7,450.1 662.2,449.6" fill="#d2d8da" />
<polygon points="647.1,452.0 649.3,452.7 649.3,457.4 647.2,456.7" fill="#f2cc40" />
<polygon points="650.2,453.0 652.3,453.7 652.3,458.4 650.2,457.7" fill="#f2cc40" />
<polygon points="653.2,454.0 655.3,454.8 655.4,459.4 653.3,458.7" fill="#f2cc40" />
<polygon points="656.2,455.1 658.4,455.8 658.4,460.4 656.3,459.7" fill="#f2cc40" />
<polygon points="659.3,456.1 661.4,456.8 661.5,461.4 659.3,460.7" fill="#f2cc40" />
<polygon points="662.3,457.1 664.4,457.8 664.5,462.4 662.4,461.7" fill="#f2cc40" />
<polygon points="646.1,457.5 666.5,464.3 666.5,465.2 646.1,458.4" fill="#c9d0d3" />
<polygon points="650.2,452.4 651.7,453.0 651.7,458.2 650.2,457.7" fill="#d2d8da" />
<polygon points="656.2,454.5 657.7,455.0 657.8,460.2 656.3,459.7" fill="#d2d8da" />
<polygon points="662.3,456.5 663.8,457.1 663.9,462.2 662.4,461.7" fill="#d2d8da" />
<polygon points="668.8,383.3 693.6,393.0 694.4,479.2 669.8,471.1" fill="#cfd5d7" />
<polygon points="670.7,385.8 691.7,393.9 692.5,476.9 671.6,470.0" fill="#e9eded" />
<polygon points="672.1,394.9 676.5,396.5 677.2,470.7 672.9,469.3" fill="#f6f8f8" />
<polygon points="671.0,386.4 691.5,394.4 691.5,402.3 671.1,394.5" fill="#a9b1b4" />
<polygon points="672.2,396.6 674.3,397.4 674.3,399.7 672.2,398.9" fill="#e08060" />
<polygon points="675.2,397.8 677.3,398.6 677.4,400.8 675.2,400.0" fill="#e08060" />
<polygon points="678.3,398.9 680.4,399.7 680.4,402.0 678.3,401.2" fill="#e08060" />
<polygon points="681.3,400.1 683.5,400.9 683.5,403.2 681.3,402.4" fill="#e08060" />
<polygon points="684.4,401.3 686.5,402.1 686.5,404.3 684.4,403.5" fill="#e08060" />
<polygon points="687.4,402.4 689.6,403.2 689.6,405.5 687.4,404.7" fill="#e08060" />
<polygon points="671.1,401.9 691.6,409.6 691.6,410.5 671.2,402.8" fill="#c9d0d3" />
<polygon points="675.2,397.2 676.7,397.8 676.8,402.9 675.3,402.3" fill="#d2d8da" />
<polygon points="681.3,399.5 682.8,400.1 682.9,405.2 681.4,404.6" fill="#d2d8da" />
<polygon points="687.4,401.9 688.9,402.4 689.0,407.5 687.5,406.9" fill="#d2d8da" />
<polygon points="672.3,405.2 673.6,405.7 673.7,408.9 672.3,408.4" fill="#ee9ab2" />
<polygon points="678.4,407.5 679.7,408.0 679.8,411.2 678.4,410.7" fill="#ee9ab2" />
<polygon points="684.4,409.8 685.8,410.3 685.9,413.4 684.5,412.9" fill="#ee9ab2" />
<polygon points="671.2,410.5 691.7,418.1 691.7,419.0 671.2,411.4" fill="#c9d0d3" />
<polygon points="675.3,405.7 676.8,406.3 676.9,411.5 675.4,410.9" fill="#d2d8da" />
<polygon points="681.4,408.0 682.9,408.6 683.0,413.7 681.4,413.2" fill="#d2d8da" />
<polygon points="687.5,410.3 689.0,410.9 689.1,416.0 687.5,415.4" fill="#d2d8da" />
<polygon points="672.3,413.8 673.7,414.3 673.7,417.5 672.4,417.0" fill="#dedb9a" />
<polygon points="678.4,416.0 679.8,416.5 679.8,419.7 678.5,419.2" fill="#dedb9a" />
<polygon points="684.5,418.3 685.9,418.8 685.9,421.9 684.6,421.4" fill="#dedb9a" />
<polygon points="671.3,419.1 691.8,426.6 691.8,427.5 671.3,420.0" fill="#c9d0d3" />
<polygon points="675.4,414.3 676.9,414.9 677.0,420.0 675.4,419.4" fill="#d2d8da" />
<polygon points="681.5,416.6 683.0,417.1 683.1,422.2 681.5,421.7" fill="#d2d8da" />
<polygon points="687.6,418.8 689.1,419.4 689.1,424.5 687.6,423.9" fill="#d2d8da" />
<polygon points="672.4,421.8 674.6,422.5 674.6,426.0 672.5,425.2" fill="#f0bf4a" />
<polygon points="675.5,422.9 677.6,423.7 677.6,427.1 675.5,426.3" fill="#f0bf4a" />
<polygon points="678.5,424.0 680.7,424.8 680.7,428.2 678.6,427.4" fill="#f0bf4a" />
<polygon points="681.6,425.1 683.7,425.9 683.7,429.3 681.6,428.5" fill="#f0bf4a" />
<polygon points="684.6,426.2 686.7,427.0 686.8,430.4 684.6,429.6" fill="#f0bf4a" />
<polygon points="687.7,427.3 689.8,428.1 689.8,431.5 687.7,430.7" fill="#f0bf4a" />
<polygon points="671.4,427.1 691.8,434.5 691.8,435.4 671.4,428.0" fill="#c9d0d3" />
<polygon points="675.5,422.3 677.0,422.9 677.0,428.0 675.5,427.4" fill="#d2d8da" />
<polygon points="681.6,424.5 683.1,425.1 683.1,430.2 681.6,429.6" fill="#d2d8da" />
<polygon points="687.6,426.7 689.2,427.3 689.2,432.4 687.7,431.8" fill="#d2d8da" />
<polygon points="672.5,430.9 673.9,431.4 673.9,434.6 672.6,434.1" fill="#f2d89a" />
<polygon points="678.6,433.1 680.0,433.6 680.0,436.8 678.6,436.3" fill="#f2d89a" />
<polygon points="684.7,435.3 686.1,435.8 686.1,438.9 684.7,438.5" fill="#f2d89a" />
<polygon points="671.5,436.3 691.9,443.5 691.9,444.4 671.5,437.2" fill="#c9d0d3" />
<polygon points="675.6,431.4 677.1,432.0 677.1,437.1 675.6,436.6" fill="#d2d8da" />
<polygon points="681.6,433.6 683.2,434.2 683.2,439.3 681.7,438.7" fill="#d2d8da" />
<polygon points="687.7,435.8 689.3,436.3 689.3,441.4 687.8,440.9" fill="#d2d8da" />
<polygon points="672.6,439.5 674.0,440.0 674.0,443.4 672.7,442.9" fill="#5cb870" />
<polygon points="678.7,441.6 680.1,442.1 680.1,445.5 678.7,445.1" fill="#5cb870" />
<polygon points="684.8,443.8 686.1,444.3 686.2,447.7 684.8,447.2" fill="#5cb870" />
<polygon points="671.6,444.8 692.0,451.9 692.0,452.8 671.6,445.8" fill="#c9d0d3" />
<polygon points="675.7,440.0 677.2,440.5 677.2,445.7 675.7,445.1" fill="#d2d8da" />
<polygon points="681.7,442.1 683.3,442.7 683.3,447.8 681.8,447.3" fill="#d2d8da" />
<polygon points="687.8,444.3 689.3,444.8 689.4,449.9 687.9,449.4" fill="#d2d8da" />
<polygon points="672.7,448.7 674.1,449.1 674.1,452.3 672.7,451.9" fill="#eeb4c4" />
<polygon points="678.8,450.8 680.2,451.2 680.2,454.4 678.8,453.9" fill="#eeb4c4" />
<polygon points="684.9,452.9 686.2,453.3 686.3,456.5 684.9,456.0" fill="#eeb4c4" />
<polygon points="671.7,454.0 692.1,461.0 692.1,461.9 671.7,454.9" fill="#c9d0d3" />
<polygon points="675.7,449.1 677.3,449.7 677.3,454.8 675.8,454.3" fill="#d2d8da" />
<polygon points="681.8,451.2 683.3,451.8 683.4,456.9 681.9,456.4" fill="#d2d8da" />
<polygon points="687.9,453.3 689.4,453.9 689.5,459.0 687.9,458.4" fill="#d2d8da" />
<polygon points="672.8,460.7 675.0,461.4 675.0,466.0 672.9,465.2" fill="#f2cc40" />
<polygon points="675.9,461.7 678.0,462.4 678.0,467.0 675.9,466.3" fill="#f2cc40" />
<polygon points="678.9,462.7 681.0,463.4 681.1,468.0 679.0,467.3" fill="#f2cc40" />
<polygon points="681.9,463.7 684.1,464.5 684.1,469.0 682.0,468.3" fill="#f2cc40" />
<polygon points="685.0,464.8 687.1,465.5 687.2,470.0 685.0,469.3" fill="#f2cc40" />
<polygon points="688.0,465.8 690.1,466.5 690.2,471.0 688.1,470.3" fill="#f2cc40" />
<polygon points="671.8,466.0 692.2,472.8 692.2,473.7 671.8,467.0" fill="#c9d0d3" />
<polygon points="675.9,461.1 677.4,461.6 677.4,466.8 675.9,466.3" fill="#d2d8da" />
<polygon points="681.9,463.2 683.5,463.7 683.5,468.8 682.0,468.3" fill="#d2d8da" />
<polygon points="688.0,465.2 689.5,465.7 689.6,470.8 688.1,470.3" fill="#d2d8da" />
<polygon points="642.5,462.1 696.0,479.7 696.0,482.5 642.5,465.0" fill="#b9bfc2" />
<polygon points="647.4,467.1 650.4,467.1 650.4,470.1 647.4,470.1" fill="#8d9397" />
<polygon points="688.1,480.4 691.1,480.4 691.1,483.4 688.1,483.4" fill="#8d9397" />
<rect x="649.0" y="352.5" width="28.5" height="25.0" rx="1.2" fill="#f6f7f8" stroke="#cfd4d8" stroke-width="0.5"/>
<rect x="652.7" y="355.0" width="20.5" height="14.0" fill="#b4c4ae"/>
<text x="671.8" y="361.0" font-size="6.2" font-weight="bold" text-anchor="end" fill="#1a1a1a" font-family="Liberation Mono, monospace" transform="translate(671.8,0) scale(1.15,1) translate(-671.8,0)">25.2</text>
<text x="671.8" y="366.5" font-size="6.2" font-weight="bold" text-anchor="end" fill="#1a1a1a" font-family="Liberation Mono, monospace" transform="translate(671.8,0) scale(1.15,1) translate(-671.8,0)">38.5</text>
<rect x="653.6" y="367.5" width="18.8" height="0.8" fill="#556"/>
<rect x="652.7" y="370.5" width="20.5" height="5.0" fill="#eef1f6"/>
<rect x="652.7" y="374.5" width="20.5" height="1.0" fill="#2a3a90"/>
<circle cx="657.5" cy="372.5" r="1.5" fill="#1e3c9a"/>
<circle cx="661.3" cy="372.5" r="1.5" fill="#1e3c9a"/>
<circle cx="665.0" cy="372.5" r="1.5" fill="#1e3c9a"/>
<circle cx="668.7" cy="372.5" r="1.5" fill="#1e3c9a"/>
<circle cx="654.4" cy="356.0" r="2.6" fill="#5ea0f0"/>
<polygon points="631.0,408.0 640.0,404.0 641.5,514.5 632.5,522.5" fill="#eceeee" />
<polygon points="577.5,386.0 631.0,408.0 632.5,522.5 579.0,502.5" fill="#e4e7e8" />
<linearGradient id="hg577" x1="0" y1="0" x2="1" y2="0"><stop offset="0" stop-color="#2f9a3a"/><stop offset="0.2" stop-color="#3aa23a"/><stop offset="0.22" stop-color="#c9dd47"/><stop offset="1" stop-color="#bcd43a"/></linearGradient>
<polygon points="577.5,386.0 631.0,408.0 631.2,426.9 577.7,405.2" fill="url(#hg577)" />
<ellipse cx="583.0" cy="397.5" rx="4.2" ry="5.8" fill="#e8d848"/><ellipse cx="583.6" cy="397.5" rx="3.2" ry="4.8" fill="#f6ece0"/><ellipse cx="583.8" cy="398.0" rx="1.6" ry="2.4" fill="#d88a7a"/>
<polygon points="610.8,407.7 612.9,408.6 613.0,413.2 610.8,412.3" fill="#3b4a30" />
<polygon points="615.1,409.5 617.2,410.3 617.3,414.9 615.1,414.1" fill="#3b4a30" />
<polygon points="619.3,411.2 621.5,412.1 621.5,416.7 619.4,415.8" fill="#3b4a30" />
<polygon points="623.6,413.0 625.8,413.8 625.8,418.4 623.7,417.5" fill="#3b4a30" />
<polygon points="577.7,405.2 631.2,426.9 631.3,431.5 577.8,409.9" fill="#d6dadb" />
<polygon points="607.2,418.3 623.2,424.8 623.3,427.1 607.2,420.6" fill="#4a4f55" />
<polygon points="579.4,411.1 604.0,421.0 605.2,509.4 580.6,500.2" fill="#cfd5d7" />
<polygon points="581.3,413.6 602.2,422.0 603.3,507.0 582.4,499.1" fill="#e9eded" />
<polygon points="582.8,422.9 587.0,424.6 588.0,500.1 583.7,498.5" fill="#f6f8f8" />
<polygon points="581.6,414.3 601.9,422.5 602.0,430.6 581.7,422.4" fill="#a9b1b4" />
<polygon points="582.8,424.6 584.9,425.5 584.9,427.8 582.8,426.9" fill="#e08060" />
<polygon points="585.8,425.8 587.9,426.7 588.0,429.0 585.8,428.2" fill="#e08060" />
<polygon points="588.9,427.0 591.0,427.9 591.0,430.2 588.9,429.4" fill="#e08060" />
<polygon points="591.9,428.3 594.0,429.1 594.0,431.4 591.9,430.6" fill="#e08060" />
<polygon points="594.9,429.5 597.0,430.3 597.1,432.6 594.9,431.8" fill="#e08060" />
<polygon points="597.9,430.7 600.1,431.5 600.1,433.8 598.0,433.0" fill="#e08060" />
<polygon points="581.8,430.0 602.1,438.1 602.1,439.0 581.8,430.9" fill="#c9d0d3" />
<polygon points="585.8,425.3 587.3,425.9 587.4,431.1 585.9,430.5" fill="#d2d8da" />
<polygon points="591.9,427.7 593.4,428.3 593.5,433.5 591.9,432.9" fill="#d2d8da" />
<polygon points="597.9,430.1 599.5,430.7 599.5,435.9 598.0,435.3" fill="#d2d8da" />
<polygon points="582.9,433.3 584.3,433.9 584.3,437.1 582.9,436.6" fill="#ee9ab2" />
<polygon points="589.0,435.7 590.3,436.3 590.4,439.5 589.0,439.0" fill="#ee9ab2" />
<polygon points="595.0,438.2 596.4,438.7 596.4,441.9 595.1,441.4" fill="#ee9ab2" />
<polygon points="581.9,438.7 602.2,446.8 602.2,447.7 581.9,439.7" fill="#c9d0d3" />
<polygon points="585.9,434.0 587.4,434.6 587.5,439.8 586.0,439.2" fill="#d2d8da" />
<polygon points="592.0,436.4 593.5,437.0 593.6,442.2 592.1,441.6" fill="#d2d8da" />
<polygon points="598.1,438.8 599.6,439.4 599.6,444.6 598.1,444.0" fill="#d2d8da" />
<polygon points="583.0,442.1 584.4,442.6 584.4,445.9 583.1,445.3" fill="#dedb9a" />
<polygon points="589.1,444.5 590.4,445.0 590.5,448.2 589.1,447.7" fill="#dedb9a" />
<polygon points="595.1,446.8 596.5,447.4 596.5,450.6 595.2,450.1" fill="#dedb9a" />
<polygon points="582.0,447.5 602.3,455.4 602.4,456.4 582.0,448.4" fill="#c9d0d3" />
<polygon points="586.0,442.7 587.6,443.3 587.6,448.5 586.1,447.9" fill="#d2d8da" />
<polygon points="592.1,445.1 593.6,445.7 593.7,450.9 592.2,450.3" fill="#d2d8da" />
<polygon points="598.2,447.5 599.7,448.1 599.7,453.3 598.2,452.7" fill="#d2d8da" />
<polygon points="583.1,450.2 585.2,451.0 585.3,454.5 583.2,453.7" fill="#f0bf4a" />
<polygon points="586.1,451.4 588.3,452.2 588.3,455.7 586.2,454.9" fill="#f0bf4a" />
<polygon points="589.2,452.6 591.3,453.4 591.3,456.9 589.2,456.1" fill="#f0bf4a" />
<polygon points="592.2,453.8 594.3,454.6 594.4,458.1 592.3,457.2" fill="#f0bf4a" />
<polygon points="595.2,455.0 597.4,455.8 597.4,459.3 595.3,458.4" fill="#f0bf4a" />
<polygon points="598.3,456.1 600.4,457.0 600.4,460.4 598.3,459.6" fill="#f0bf4a" />
<polygon points="582.1,455.6 602.5,463.5 602.5,464.5 582.1,456.5" fill="#c9d0d3" />
<polygon points="586.1,450.8 587.7,451.4 587.7,456.6 586.2,456.0" fill="#d2d8da" />
<polygon points="592.2,453.2 593.7,453.8 593.8,459.0 592.3,458.4" fill="#d2d8da" />
<polygon points="598.3,455.6 599.8,456.2 599.9,461.4 598.3,460.8" fill="#d2d8da" />
<polygon points="583.2,459.5 584.6,460.0 584.6,463.3 583.3,462.8" fill="#f2d89a" />
<polygon points="589.3,461.9 590.7,462.4 590.7,465.6 589.3,465.1" fill="#f2d89a" />
<polygon points="595.4,464.2 596.7,464.8 596.8,468.0 595.4,467.5" fill="#f2d89a" />
<polygon points="582.2,464.9 602.6,472.8 602.6,473.7 582.3,465.9" fill="#c9d0d3" />
<polygon points="586.3,460.1 587.8,460.7 587.8,465.9 586.3,465.3" fill="#d2d8da" />
<polygon points="592.3,462.5 593.8,463.1 593.9,468.3 592.4,467.7" fill="#d2d8da" />
<polygon points="598.4,464.8 599.9,465.4 600.0,470.6 598.5,470.0" fill="#d2d8da" />
<polygon points="583.4,468.2 584.7,468.8 584.8,472.3 583.4,471.7" fill="#5cb870" />
<polygon points="589.4,470.6 590.8,471.1 590.8,474.6 589.5,474.1" fill="#5cb870" />
<polygon points="595.5,472.9 596.8,473.4 596.9,476.9 595.5,476.4" fill="#5cb870" />
<polygon points="582.4,473.6 602.7,481.4 602.7,482.4 582.4,474.6" fill="#c9d0d3" />
<polygon points="586.4,468.8 587.9,469.4 588.0,474.6 586.4,474.1" fill="#d2d8da" />
<polygon points="592.4,471.2 594.0,471.8 594.0,477.0 592.5,476.4" fill="#d2d8da" />
<polygon points="598.5,473.5 600.0,474.1 600.1,479.3 598.6,478.7" fill="#d2d8da" />
<polygon points="583.5,477.5 584.8,478.1 584.9,481.3 583.5,480.8" fill="#eeb4c4" />
<polygon points="589.5,479.9 590.9,480.4 590.9,483.6 589.6,483.1" fill="#eeb4c4" />
<polygon points="595.6,482.2 597.0,482.7 597.0,485.9 595.6,485.4" fill="#eeb4c4" />
<polygon points="582.5,483.0 602.8,490.7 602.8,491.6 582.5,483.9" fill="#c9d0d3" />
<polygon points="586.5,478.1 588.0,478.7 588.1,483.9 586.6,483.4" fill="#d2d8da" />
<polygon points="592.6,480.4 594.1,481.0 594.1,486.2 592.6,485.7" fill="#d2d8da" />
<polygon points="598.6,482.8 600.1,483.3 600.2,488.6 598.7,488.0" fill="#d2d8da" />
<polygon points="583.6,489.8 585.7,490.6 585.8,495.2 583.7,494.4" fill="#f2cc40" />
<polygon points="586.7,490.9 588.8,491.7 588.8,496.4 586.7,495.6" fill="#f2cc40" />
<polygon points="589.7,492.1 591.8,492.9 591.9,497.5 589.8,496.7" fill="#f2cc40" />
<polygon points="592.7,493.2 594.8,494.0 594.9,498.6 592.8,497.8" fill="#f2cc40" />
<polygon points="595.8,494.3 597.9,495.2 597.9,499.8 595.8,499.0" fill="#f2cc40" />
<polygon points="598.8,495.5 600.9,496.3 601.0,500.9 598.8,500.1" fill="#f2cc40" />
<polygon points="582.6,495.2 603.0,502.8 603.0,503.8 582.6,496.1" fill="#c9d0d3" />
<polygon points="586.7,490.3 588.2,490.9 588.2,496.1 586.7,495.6" fill="#d2d8da" />
<polygon points="592.7,492.6 594.2,493.2 594.3,498.4 592.8,497.8" fill="#d2d8da" />
<polygon points="598.8,494.9 600.3,495.5 600.4,500.7 598.8,500.1" fill="#d2d8da" />
<polygon points="605.1,421.5 629.7,431.4 630.9,519.0 606.2,509.8" fill="#cfd5d7" />
<polygon points="607.0,424.0 627.9,432.4 629.0,516.6 608.1,508.8" fill="#e9eded" />
<polygon points="608.4,433.1 612.7,434.9 613.7,509.7 609.4,508.1" fill="#f6f8f8" />
<polygon points="607.3,424.6 627.6,432.8 627.7,440.9 607.4,432.7" fill="#a9b1b4" />
<polygon points="608.5,434.9 610.6,435.7 610.6,438.0 608.5,437.2" fill="#e08060" />
<polygon points="611.5,436.1 613.6,436.9 613.7,439.2 611.5,438.4" fill="#e08060" />
<polygon points="614.5,437.3 616.7,438.1 616.7,440.4 614.6,439.6" fill="#e08060" />
<polygon points="617.6,438.5 619.7,439.4 619.7,441.7 617.6,440.8" fill="#e08060" />
<polygon points="620.6,439.7 622.7,440.6 622.7,442.9 620.6,442.0" fill="#e08060" />
<polygon points="623.6,440.9 625.7,441.8 625.8,444.1 623.7,443.2" fill="#e08060" />
<polygon points="607.5,440.2 627.8,448.3 627.8,449.2 607.5,441.1" fill="#c9d0d3" />
<polygon points="611.5,435.5 613.0,436.1 613.1,441.3 611.6,440.7" fill="#d2d8da" />
<polygon points="617.6,437.9 619.1,438.5 619.1,443.7 617.6,443.1" fill="#d2d8da" />
<polygon points="623.6,440.4 625.1,441.0 625.2,446.1 623.7,445.5" fill="#d2d8da" />
<polygon points="608.6,443.5 609.9,444.1 610.0,447.3 608.6,446.8" fill="#ee9ab2" />
<polygon points="614.6,445.9 616.0,446.5 616.0,449.7 614.7,449.2" fill="#ee9ab2" />
<polygon points="620.7,448.3 622.1,448.9 622.1,452.1 620.7,451.6" fill="#ee9ab2" />
<polygon points="607.6,448.9 627.9,456.9 627.9,457.8 607.6,449.8" fill="#c9d0d3" />
<polygon points="611.6,444.2 613.1,444.8 613.2,449.9 611.7,449.3" fill="#d2d8da" />
<polygon points="617.7,446.6 619.2,447.2 619.3,452.3 617.7,451.7" fill="#d2d8da" />
<polygon points="623.7,449.0 625.2,449.6 625.3,454.7 623.8,454.1" fill="#d2d8da" />
<polygon points="608.7,452.2 610.1,452.7 610.1,455.9 608.7,455.4" fill="#dedb9a" />
<polygon points="614.8,454.6 616.1,455.1 616.2,458.3 614.8,457.8" fill="#dedb9a" />
<polygon points="620.8,457.0 622.2,457.5 622.2,460.7 620.9,460.2" fill="#dedb9a" />
<polygon points="607.7,457.5 628.0,465.5 628.0,466.4 607.7,458.5" fill="#c9d0d3" />
<polygon points="611.7,452.8 613.2,453.4 613.3,458.6 611.8,458.0" fill="#d2d8da" />
<polygon points="617.8,455.2 619.3,455.8 619.4,461.0 617.8,460.4" fill="#d2d8da" />
<polygon points="623.8,457.6 625.4,458.2 625.4,463.3 623.9,462.7" fill="#d2d8da" />
<polygon points="608.8,460.3 610.9,461.1 611.0,464.5 608.8,463.7" fill="#f0bf4a" />
<polygon points="611.8,461.4 614.0,462.3 614.0,465.7 611.9,464.9" fill="#f0bf4a" />
<polygon points="614.9,462.6 617.0,463.5 617.0,466.9 614.9,466.1" fill="#f0bf4a" />
<polygon points="617.9,463.8 620.0,464.6 620.1,468.1 617.9,467.3" fill="#f0bf4a" />
<polygon points="620.9,465.0 623.0,465.8 623.1,469.3 621.0,468.4" fill="#f0bf4a" />
<polygon points="624.0,466.2 626.1,467.0 626.1,470.5 624.0,469.6" fill="#f0bf4a" />
<polygon points="607.8,465.6 628.1,473.5 628.1,474.4 607.8,466.5" fill="#c9d0d3" />
<polygon points="611.8,460.9 613.3,461.5 613.4,466.6 611.9,466.1" fill="#d2d8da" />
<polygon points="617.9,463.2 619.4,463.8 619.5,469.0 618.0,468.4" fill="#d2d8da" />
<polygon points="623.9,465.6 625.5,466.2 625.5,471.4 624.0,470.8" fill="#d2d8da" />
<polygon points="608.9,469.5 610.3,470.0 610.3,473.2 609.0,472.7" fill="#f2d89a" />
<polygon points="615.0,471.8 616.3,472.4 616.4,475.6 615.0,475.1" fill="#f2d89a" />
<polygon points="621.0,474.2 622.4,474.7 622.5,477.9 621.1,477.4" fill="#f2d89a" />
<polygon points="607.9,474.8 628.3,482.7 628.3,483.6 607.9,475.8" fill="#c9d0d3" />
<polygon points="611.9,470.1 613.5,470.7 613.5,475.9 612.0,475.3" fill="#d2d8da" />
<polygon points="618.0,472.4 619.5,473.0 619.6,478.2 618.1,477.6" fill="#d2d8da" />
<polygon points="624.1,474.8 625.6,475.4 625.7,480.5 624.1,480.0" fill="#d2d8da" />
<polygon points="609.0,478.1 610.4,478.7 610.4,482.1 609.1,481.6" fill="#5cb870" />
<polygon points="615.1,480.5 616.5,481.0 616.5,484.5 615.1,483.9" fill="#5cb870" />
<polygon points="621.2,482.8 622.5,483.3 622.6,486.8 621.2,486.3" fill="#5cb870" />
<polygon points="608.0,483.5 628.4,491.3 628.4,492.2 608.0,484.4" fill="#c9d0d3" />
<polygon points="612.1,478.7 613.6,479.3 613.6,484.5 612.1,483.9" fill="#d2d8da" />
<polygon points="618.1,481.1 619.6,481.7 619.7,486.8 618.2,486.2" fill="#d2d8da" />
<polygon points="624.2,483.4 625.7,484.0 625.8,489.2 624.2,488.6" fill="#d2d8da" />
<polygon points="609.1,487.4 610.5,487.9 610.6,491.1 609.2,490.6" fill="#eeb4c4" />
<polygon points="615.2,489.7 616.6,490.2 616.6,493.4 615.3,492.9" fill="#eeb4c4" />
<polygon points="621.3,492.0 622.6,492.5 622.7,495.7 621.3,495.2" fill="#eeb4c4" />
<polygon points="608.2,492.7 628.5,500.5 628.5,501.4 608.2,493.7" fill="#c9d0d3" />
<polygon points="612.2,488.0 613.7,488.5 613.8,493.7 612.2,493.1" fill="#d2d8da" />
<polygon points="618.2,490.3 619.8,490.9 619.8,496.0 618.3,495.4" fill="#d2d8da" />
<polygon points="624.3,492.6 625.8,493.2 625.9,498.3 624.4,497.8" fill="#d2d8da" />
<polygon points="609.3,499.5 611.4,500.3 611.5,504.9 609.4,504.1" fill="#f2cc40" />
<polygon points="612.3,500.6 614.5,501.4 614.5,506.0 612.4,505.2" fill="#f2cc40" />
<polygon points="615.4,501.8 617.5,502.6 617.6,507.2 615.4,506.4" fill="#f2cc40" />
<polygon points="618.4,502.9 620.5,503.7 620.6,508.3 618.5,507.5" fill="#f2cc40" />
<polygon points="621.4,504.1 623.6,504.9 623.6,509.5 621.5,508.7" fill="#f2cc40" />
<polygon points="624.5,505.2 626.6,506.0 626.6,510.6 624.5,509.8" fill="#f2cc40" />
<polygon points="608.3,504.8 628.6,512.5 628.7,513.4 608.3,505.8" fill="#c9d0d3" />
<polygon points="612.3,500.1 613.8,500.6 613.9,505.8 612.4,505.2" fill="#d2d8da" />
<polygon points="618.4,502.3 619.9,502.9 620.0,508.1 618.5,507.5" fill="#d2d8da" />
<polygon points="624.5,504.6 626.0,505.2 626.0,510.4 624.5,509.8" fill="#d2d8da" />
<polygon points="579.0,499.6 632.5,519.6 632.5,522.5 579.0,502.5" fill="#b9bfc2" />
<polygon points="583.9,504.9 586.9,504.9 586.9,507.9 583.9,507.9" fill="#8d9397" />
<polygon points="624.6,520.1 627.6,520.1 627.6,523.1 624.6,523.1" fill="#8d9397" />
<rect x="586.0" y="390.0" width="29.0" height="26.5" rx="1.2" fill="#f6f7f8" stroke="#cfd4d8" stroke-width="0.5"/>
<rect x="589.8" y="392.6" width="20.9" height="14.8" fill="#b4c4ae"/>
<text x="609.2" y="399.0" font-size="6.6" font-weight="bold" text-anchor="end" fill="#1a1a1a" font-family="Liberation Mono, monospace" transform="translate(609.2,0) scale(1.15,1) translate(-609.2,0)">25.2</text>
<text x="609.2" y="404.8" font-size="6.6" font-weight="bold" text-anchor="end" fill="#1a1a1a" font-family="Liberation Mono, monospace" transform="translate(609.2,0) scale(1.15,1) translate(-609.2,0)">38.5</text>
<rect x="590.6" y="405.9" width="19.1" height="0.8" fill="#556"/>
<rect x="589.8" y="409.1" width="20.9" height="5.3" fill="#eef1f6"/>
<rect x="589.8" y="413.3" width="20.9" height="1.1" fill="#2a3a90"/>
<circle cx="594.7" cy="411.2" r="1.6" fill="#1e3c9a"/>
<circle cx="598.5" cy="411.2" r="1.6" fill="#1e3c9a"/>
<circle cx="602.2" cy="411.2" r="1.6" fill="#1e3c9a"/>
<circle cx="606.0" cy="411.2" r="1.6" fill="#1e3c9a"/>
<circle cx="591.5" cy="393.7" r="2.6" fill="#5ea0f0"/>
<polygon points="562.0,438.0 572.0,434.0 571.0,544.0 561.0,552.0" fill="#eceeee" />
<polygon points="509.0,416.0 562.0,438.0 561.0,552.0 510.0,530.0" fill="#e4e7e8" />
<linearGradient id="hg509" x1="0" y1="0" x2="1" y2="0"><stop offset="0" stop-color="#2f9a3a"/><stop offset="0.2" stop-color="#3aa23a"/><stop offset="0.22" stop-color="#c9dd47"/><stop offset="1" stop-color="#bcd43a"/></linearGradient>
<polygon points="509.0,416.0 562.0,438.0 561.8,456.8 509.2,434.8" fill="url(#hg509)" />
<ellipse cx="514.4" cy="427.3" rx="4.2" ry="5.8" fill="#e8d848"/><ellipse cx="515.0" cy="427.3" rx="3.2" ry="4.8" fill="#f6ece0"/><ellipse cx="515.2" cy="427.8" rx="1.6" ry="2.4" fill="#d88a7a"/>
<polygon points="541.8,437.6 544.0,438.5 543.9,443.1 541.8,442.2" fill="#3b4a30" />
<polygon points="546.1,439.4 548.2,440.3 548.2,444.8 546.1,443.9" fill="#3b4a30" />
<polygon points="550.3,441.1 552.4,442.0 552.4,446.6 550.3,445.7" fill="#3b4a30" />
<polygon points="554.5,442.9 556.6,443.8 556.6,448.3 554.5,447.5" fill="#3b4a30" />
<polygon points="509.2,434.8 561.8,456.8 561.8,461.4 509.2,439.4" fill="#d6dadb" />
<polygon points="538.1,448.1 553.9,454.6 553.9,456.9 538.1,450.3" fill="#4a4f55" />
<polygon points="510.8,440.6 535.0,450.7 535.0,537.9 511.5,527.8" fill="#cfd5d7" />
<polygon points="512.6,443.1 533.1,451.7 533.2,535.5 513.3,526.9" fill="#e9eded" />
<polygon points="514.0,452.2 518.2,453.9 518.6,528.0 514.5,526.3" fill="#f6f8f8" />
<polygon points="512.9,443.8 532.9,452.1 532.9,460.1 513.0,451.7" fill="#a9b1b4" />
<polygon points="514.0,453.9 516.1,454.8 516.1,457.0 514.0,456.2" fill="#e08060" />
<polygon points="517.0,455.1 519.1,456.0 519.1,458.3 517.0,457.4" fill="#e08060" />
<polygon points="520.0,456.4 522.0,457.3 522.1,459.5 520.0,458.7" fill="#e08060" />
<polygon points="522.9,457.6 525.0,458.5 525.0,460.8 522.9,459.9" fill="#e08060" />
<polygon points="525.9,458.9 528.0,459.7 528.0,462.0 525.9,461.2" fill="#e08060" />
<polygon points="528.9,460.1 530.9,461.0 530.9,463.3 528.9,462.4" fill="#e08060" />
<polygon points="513.0,459.1 532.9,467.5 532.9,468.4 513.0,460.1" fill="#c9d0d3" />
<polygon points="517.0,454.6 518.5,455.2 518.5,460.3 517.0,459.7" fill="#d2d8da" />
<polygon points="522.9,457.1 524.4,457.7 524.4,462.8 523.0,462.2" fill="#d2d8da" />
<polygon points="528.9,459.6 530.3,460.2 530.4,465.3 528.9,464.7" fill="#d2d8da" />
<polygon points="514.1,462.4 515.4,463.0 515.4,466.2 514.1,465.6" fill="#ee9ab2" />
<polygon points="520.0,464.9 521.3,465.5 521.4,468.7 520.0,468.1" fill="#ee9ab2" />
<polygon points="525.9,467.4 527.3,468.0 527.3,471.2 525.9,470.6" fill="#ee9ab2" />
<polygon points="513.1,467.7 532.9,476.1 532.9,477.0 513.1,468.6" fill="#c9d0d3" />
<polygon points="517.0,463.1 518.5,463.7 518.6,468.9 517.1,468.2" fill="#d2d8da" />
<polygon points="523.0,465.6 524.4,466.2 524.5,471.4 523.0,470.7" fill="#d2d8da" />
<polygon points="528.9,468.1 530.4,468.7 530.4,473.9 528.9,473.2" fill="#d2d8da" />
<polygon points="514.2,471.0 515.5,471.6 515.5,474.7 514.2,474.2" fill="#dedb9a" />
<polygon points="520.1,473.5 521.4,474.0 521.4,477.2 520.1,476.7" fill="#dedb9a" />
<polygon points="526.0,476.0 527.3,476.5 527.3,479.7 526.0,479.2" fill="#dedb9a" />
<polygon points="513.2,476.2 532.9,484.6 532.9,485.5 513.2,477.2" fill="#c9d0d3" />
<polygon points="517.1,471.7 518.6,472.3 518.6,477.4 517.1,476.8" fill="#d2d8da" />
<polygon points="523.0,474.2 524.5,474.8 524.5,479.9 523.0,479.3" fill="#d2d8da" />
<polygon points="528.9,476.7 530.4,477.3 530.4,482.4 528.9,481.8" fill="#d2d8da" />
<polygon points="514.2,479.0 516.3,479.8 516.3,483.3 514.2,482.4" fill="#f0bf4a" />
<polygon points="517.2,480.2 519.2,481.1 519.2,484.5 517.2,483.6" fill="#f0bf4a" />
<polygon points="520.1,481.5 522.2,482.3 522.2,485.8 520.1,484.9" fill="#f0bf4a" />
<polygon points="523.0,482.7 525.1,483.6 525.1,487.0 523.1,486.1" fill="#f0bf4a" />
<polygon points="526.0,484.0 528.0,484.8 528.0,488.2 526.0,487.4" fill="#f0bf4a" />
<polygon points="528.9,485.2 531.0,486.1 531.0,489.5 528.9,488.6" fill="#f0bf4a" />
<polygon points="513.2,484.2 532.9,492.6 532.9,493.5 513.2,485.1" fill="#c9d0d3" />
<polygon points="517.1,479.6 518.6,480.3 518.6,485.4 517.2,484.8" fill="#d2d8da" />
<polygon points="523.0,482.1 524.5,482.8 524.5,487.9 523.1,487.3" fill="#d2d8da" />
<polygon points="528.9,484.6 530.4,485.3 530.4,490.4 528.9,489.8" fill="#d2d8da" />
<polygon points="514.3,488.1 515.6,488.7 515.6,491.8 514.3,491.3" fill="#f2d89a" />
<polygon points="520.1,490.6 521.5,491.1 521.5,494.3 520.2,493.8" fill="#f2d89a" />
<polygon points="526.0,493.1 527.3,493.6 527.3,496.8 526.0,496.3" fill="#f2d89a" />
<polygon points="513.3,493.3 532.9,501.7 532.9,502.6 513.3,494.3" fill="#c9d0d3" />
<polygon points="517.2,488.8 518.7,489.4 518.7,494.5 517.2,493.9" fill="#d2d8da" />
<polygon points="523.1,491.3 524.5,491.9 524.6,497.0 523.1,496.4" fill="#d2d8da" />
<polygon points="528.9,493.8 530.4,494.4 530.4,499.5 529.0,498.9" fill="#d2d8da" />
<polygon points="514.3,496.6 515.7,497.2 515.7,500.6 514.4,500.1" fill="#5cb870" />
<polygon points="520.2,499.1 521.5,499.7 521.5,503.1 520.2,502.6" fill="#5cb870" />
<polygon points="526.0,501.6 527.4,502.2 527.4,505.6 526.0,505.0" fill="#5cb870" />
<polygon points="513.3,501.9 532.9,510.3 532.9,511.2 513.4,502.8" fill="#c9d0d3" />
<polygon points="517.3,497.3 518.7,497.9 518.7,503.1 517.3,502.4" fill="#d2d8da" />
<polygon points="523.1,499.8 524.6,500.4 524.6,505.6 523.1,504.9" fill="#d2d8da" />
<polygon points="529.0,502.3 530.4,502.9 530.4,508.1 529.0,507.4" fill="#d2d8da" />
<polygon points="514.4,505.8 515.7,506.3 515.7,509.5 514.4,509.0" fill="#eeb4c4" />
<polygon points="520.2,508.3 521.5,508.8 521.6,512.0 520.3,511.4" fill="#eeb4c4" />
<polygon points="526.1,510.7 527.4,511.3 527.4,514.5 526.1,513.9" fill="#eeb4c4" />
<polygon points="513.4,511.0 532.9,519.4 532.9,520.3 513.4,511.9" fill="#c9d0d3" />
<polygon points="517.3,506.4 518.8,507.1 518.8,512.2 517.3,511.6" fill="#d2d8da" />
<polygon points="523.1,508.9 524.6,509.6 524.6,514.7 523.2,514.1" fill="#d2d8da" />
<polygon points="529.0,511.4 530.4,512.0 530.4,517.2 529.0,516.6" fill="#d2d8da" />
<polygon points="514.5,517.7 516.5,518.6 516.6,523.2 514.5,522.3" fill="#f2cc40" />
<polygon points="517.4,519.0 519.4,519.8 519.4,524.4 517.4,523.5" fill="#f2cc40" />
<polygon points="520.3,520.2 522.3,521.1 522.3,525.7 520.3,524.8" fill="#f2cc40" />
<polygon points="523.2,521.5 525.2,522.3 525.2,526.9 523.2,526.0" fill="#f2cc40" />
<polygon points="526.1,522.7 528.1,523.6 528.1,528.1 526.1,527.3" fill="#f2cc40" />
<polygon points="529.0,524.0 531.0,524.8 531.0,529.4 529.0,528.5" fill="#f2cc40" />
<polygon points="513.5,523.0 532.9,531.4 532.9,532.3 513.5,523.9" fill="#c9d0d3" />
<polygon points="517.4,518.4 518.8,519.0 518.9,524.2 517.4,523.5" fill="#d2d8da" />
<polygon points="523.2,520.9 524.6,521.5 524.7,526.7 523.2,526.0" fill="#d2d8da" />
<polygon points="529.0,523.4 530.5,524.0 530.5,529.1 529.0,528.5" fill="#d2d8da" />
<polygon points="536.0,451.2 560.2,461.3 559.5,548.5 536.0,538.4" fill="#cfd5d7" />
<polygon points="537.9,453.6 558.4,462.2 557.7,546.0 537.8,537.4" fill="#e9eded" />
<polygon points="539.2,462.7 543.4,464.5 543.2,538.6 539.1,536.8" fill="#f6f8f8" />
<polygon points="538.1,454.3 558.1,462.7 558.0,470.7 538.1,462.3" fill="#a9b1b4" />
<polygon points="539.2,464.4 541.2,465.3 541.2,467.6 539.2,466.7" fill="#e08060" />
<polygon points="542.1,465.7 544.2,466.6 544.2,468.8 542.1,468.0" fill="#e08060" />
<polygon points="545.1,466.9 547.2,467.8 547.2,470.1 545.1,469.2" fill="#e08060" />
<polygon points="548.1,468.2 550.1,469.1 550.1,471.3 548.1,470.5" fill="#e08060" />
<polygon points="551.0,469.4 553.1,470.3 553.1,472.6 551.0,471.7" fill="#e08060" />
<polygon points="554.0,470.7 556.1,471.6 556.1,473.8 554.0,473.0" fill="#e08060" />
<polygon points="538.1,469.7 558.0,478.1 558.0,479.0 538.1,470.6" fill="#c9d0d3" />
<polygon points="542.1,465.1 543.6,465.8 543.6,470.9 542.1,470.3" fill="#d2d8da" />
<polygon points="548.1,467.6 549.6,468.2 549.5,473.4 548.0,472.8" fill="#d2d8da" />
<polygon points="554.0,470.1 555.5,470.7 555.5,475.9 554.0,475.2" fill="#d2d8da" />
<polygon points="539.2,473.0 540.5,473.6 540.5,476.8 539.2,476.2" fill="#ee9ab2" />
<polygon points="545.1,475.5 546.4,476.1 546.4,479.2 545.1,478.7" fill="#ee9ab2" />
<polygon points="551.0,478.0 552.3,478.5 552.3,481.7 551.0,481.2" fill="#ee9ab2" />
<polygon points="538.1,478.3 557.9,486.6 557.9,487.5 538.1,479.2" fill="#c9d0d3" />
<polygon points="542.1,473.7 543.6,474.3 543.6,479.4 542.1,478.8" fill="#d2d8da" />
<polygon points="548.0,476.2 549.5,476.8 549.5,481.9 548.0,481.3" fill="#d2d8da" />
<polygon points="554.0,478.7 555.4,479.3 555.4,484.4 553.9,483.8" fill="#d2d8da" />
<polygon points="539.1,481.6 540.5,482.1 540.5,485.3 539.1,484.7" fill="#dedb9a" />
<polygon points="545.0,484.0 546.4,484.6 546.4,487.8 545.0,487.2" fill="#dedb9a" />
<polygon points="550.9,486.5 552.3,487.1 552.3,490.3 550.9,489.7" fill="#dedb9a" />
<polygon points="538.1,486.8 557.8,495.2 557.8,496.1 538.1,487.7" fill="#c9d0d3" />
<polygon points="542.1,482.2 543.6,482.9 543.6,488.0 542.1,487.4" fill="#d2d8da" />
<polygon points="548.0,484.7 549.5,485.3 549.5,490.5 548.0,489.8" fill="#d2d8da" />
<polygon points="553.9,487.2 555.4,487.8 555.3,493.0 553.9,492.3" fill="#d2d8da" />
<polygon points="539.1,489.5 541.2,490.4 541.2,493.8 539.1,492.9" fill="#f0bf4a" />
<polygon points="542.1,490.8 544.1,491.6 544.1,495.1 542.1,494.2" fill="#f0bf4a" />
<polygon points="545.0,492.0 547.1,492.9 547.1,496.3 545.0,495.4" fill="#f0bf4a" />
<polygon points="548.0,493.3 550.0,494.1 550.0,497.6 547.9,496.7" fill="#f0bf4a" />
<polygon points="550.9,494.5 553.0,495.4 552.9,498.8 550.9,497.9" fill="#f0bf4a" />
<polygon points="553.8,495.8 555.9,496.6 555.9,500.1 553.8,499.2" fill="#f0bf4a" />
<polygon points="538.1,494.8 557.8,503.2 557.8,504.1 538.1,495.7" fill="#c9d0d3" />
<polygon points="542.1,490.2 543.6,490.8 543.5,496.0 542.1,495.3" fill="#d2d8da" />
<polygon points="548.0,492.7 549.4,493.3 549.4,498.5 547.9,497.8" fill="#d2d8da" />
<polygon points="553.9,495.2 555.3,495.8 555.3,500.9 553.8,500.3" fill="#d2d8da" />
<polygon points="539.1,498.6 540.4,499.2 540.4,502.4 539.1,501.8" fill="#f2d89a" />
<polygon points="545.0,501.1 546.3,501.7 546.3,504.9 545.0,504.3" fill="#f2d89a" />
<polygon points="550.9,503.6 552.2,504.2 552.2,507.4 550.8,506.8" fill="#f2d89a" />
<polygon points="538.1,503.9 557.7,512.3 557.7,513.2 538.1,504.8" fill="#c9d0d3" />
<polygon points="542.1,499.3 543.5,499.9 543.5,505.1 542.0,504.5" fill="#d2d8da" />
<polygon points="547.9,501.8 549.4,502.4 549.4,507.6 547.9,506.9" fill="#d2d8da" />
<polygon points="553.8,504.3 555.3,504.9 555.2,510.1 553.8,509.4" fill="#d2d8da" />
<polygon points="539.1,507.2 540.4,507.8 540.4,511.2 539.1,510.6" fill="#5cb870" />
<polygon points="545.0,509.7 546.3,510.3 546.3,513.7 545.0,513.1" fill="#5cb870" />
<polygon points="550.8,512.2 552.1,512.7 552.1,516.2 550.8,515.6" fill="#5cb870" />
<polygon points="538.1,512.5 557.7,520.8 557.6,521.7 538.1,513.4" fill="#c9d0d3" />
<polygon points="542.0,507.9 543.5,508.5 543.5,513.6 542.0,513.0" fill="#d2d8da" />
<polygon points="547.9,510.4 549.4,511.0 549.3,516.1 547.9,515.5" fill="#d2d8da" />
<polygon points="553.7,512.9 555.2,513.5 555.2,518.6 553.7,518.0" fill="#d2d8da" />
<polygon points="539.1,516.3 540.4,516.9 540.4,520.1 539.1,519.5" fill="#eeb4c4" />
<polygon points="544.9,518.8 546.2,519.4 546.2,522.6 544.9,522.0" fill="#eeb4c4" />
<polygon points="550.8,521.3 552.1,521.9 552.1,525.1 550.7,524.5" fill="#eeb4c4" />
<polygon points="538.1,521.6 557.6,529.9 557.6,530.9 538.1,522.5" fill="#c9d0d3" />
<polygon points="542.0,517.0 543.5,517.6 543.5,522.8 542.0,522.1" fill="#d2d8da" />
<polygon points="547.9,519.5 549.3,520.1 549.3,525.2 547.8,524.6" fill="#d2d8da" />
<polygon points="553.7,522.0 555.1,522.6 555.1,527.7 553.7,527.1" fill="#d2d8da" />
<polygon points="539.1,528.3 541.1,529.2 541.1,533.7 539.1,532.8" fill="#f2cc40" />
<polygon points="542.0,529.5 544.0,530.4 544.0,535.0 542.0,534.1" fill="#f2cc40" />
<polygon points="544.9,530.8 546.9,531.7 546.9,536.2 544.9,535.3" fill="#f2cc40" />
<polygon points="547.8,532.0 549.8,532.9 549.8,537.5 547.8,536.6" fill="#f2cc40" />
<polygon points="550.7,533.3 552.7,534.1 552.7,538.7 550.7,537.8" fill="#f2cc40" />
<polygon points="553.6,534.5 555.6,535.4 555.6,540.0 553.6,539.1" fill="#f2cc40" />
<polygon points="538.1,533.6 557.5,541.9 557.5,542.8 538.1,534.5" fill="#c9d0d3" />
<polygon points="542.0,529.0 543.4,529.6 543.4,534.7 542.0,534.1" fill="#d2d8da" />
<polygon points="547.8,531.5 549.3,532.1 549.2,537.2 547.8,536.6" fill="#d2d8da" />
<polygon points="553.6,534.0 555.1,534.6 555.0,539.7 553.6,539.1" fill="#d2d8da" />
<polygon points="510.0,527.1 561.0,549.1 561.0,552.0 510.0,530.0" fill="#b9bfc2" />
<polygon points="514.6,532.6 517.6,532.6 517.6,535.6 514.6,535.6" fill="#8d9397" />
<polygon points="553.4,549.4 556.4,549.4 556.4,552.4 553.4,552.4" fill="#8d9397" />
<rect x="516.0" y="414.0" width="30.0" height="27.5" rx="1.2" fill="#f6f7f8" stroke="#cfd4d8" stroke-width="0.5"/>
<rect x="519.9" y="416.8" width="21.6" height="15.4" fill="#b4c4ae"/>
<text x="540.0" y="423.4" font-size="6.9" font-weight="bold" text-anchor="end" fill="#1a1a1a" font-family="Liberation Mono, monospace" transform="translate(540.0,0) scale(1.15,1) translate(-540.0,0)">25.2</text>
<text x="540.0" y="429.4" font-size="6.9" font-weight="bold" text-anchor="end" fill="#1a1a1a" font-family="Liberation Mono, monospace" transform="translate(540.0,0) scale(1.15,1) translate(-540.0,0)">38.5</text>
<rect x="520.8" y="430.5" width="19.8" height="0.8" fill="#556"/>
<rect x="519.9" y="433.8" width="21.6" height="5.5" fill="#eef1f6"/>
<rect x="519.9" y="438.2" width="21.6" height="1.1" fill="#2a3a90"/>
<circle cx="525.0" cy="436.0" r="1.6" fill="#1e3c9a"/>
<circle cx="528.9" cy="436.0" r="1.6" fill="#1e3c9a"/>
<circle cx="532.8" cy="436.0" r="1.6" fill="#1e3c9a"/>
<circle cx="536.7" cy="436.0" r="1.6" fill="#1e3c9a"/>
<circle cx="521.7" cy="417.9" r="2.6" fill="#5ea0f0"/>
<line x1="205" y1="415.8" x2="424" y2="415.8" stroke="#2c2c8c" stroke-width="1.6" stroke-dasharray="1.6 1.6"/>
<path d="M348.5,415.8 L356,411.5 L354,415.8 L356,420 Z" fill="#16166a"/>
<polyline points="426,428.5 334.2,428.5 334.2,552 283,552" fill="none" stroke="#111" stroke-width="1.6"/>
<line x1="174" y1="552" x2="244" y2="552" stroke="#111" stroke-width="1.6"/>
<rect x="229.0" y="389.5" width="53.5" height="15.5" rx="6.5" fill="#1b1d6e"/>
<text x="255.8" y="400.7" font-size="9.6" font-weight="bold" letter-spacing="0" text-anchor="middle" fill="#fff" stroke="#fff" stroke-width="0.1" font-family="Liberation Sans, sans-serif">4G/以太网</text>
<rect x="100.5" y="472.5" width="47.0" height="17.5" rx="6.5" fill="#6aa6ec"/>
<text x="124.0" y="485.0" font-size="10.4" font-weight="bold" letter-spacing="0" text-anchor="middle" fill="#fff" stroke="#fff" stroke-width="0.1" font-family="Liberation Sans, sans-serif">云平台</text>
<rect x="89.8" y="607.2" width="69.7" height="17.6" rx="6.5" fill="#6aa6ec"/>
<text x="124.9" y="619.7" font-size="10.2" font-weight="bold" letter-spacing="-0.5" text-anchor="middle" fill="#fff" stroke="#fff" stroke-width="0.1" font-family="Liberation Sans, sans-serif">本地软件平台</text>
<text x="261.2" y="588.8" font-size="15" text-anchor="middle" fill="#111" stroke="#111" stroke-width="0.25" font-family="Liberation Sans, sans-serif">USB转485</text>
<rect x="423.5" y="406.7" width="59" height="4" fill="#2a2c30"/>
<rect x="423.5" y="432.7" width="59" height="4" fill="#2a2c30"/>
<rect x="425" y="398.7" width="56" height="42.0" rx="1" fill="#1a1b1f"/>
<polygon points="461.8,402.6 478.4,402.6 478.4,428.0" fill="#b3262a" />
<polygon points="469.0,409.5 478.4,409.5 478.4,411.2 470.0,411.2" fill="#1c1d21" />
<line x1="461.8" y1="402.6" x2="478.4" y2="428.0" stroke="#2436c8" stroke-width="0.9" />
<polygon points="425.9,417.5 434.2,432.4 425.9,432.4" fill="#b3262a" />
<line x1="425.9" y1="417.5" x2="434.2" y2="432.4" stroke="#2436c8" stroke-width="0.9" />
<rect x="426" y="429.5" width="6" height="3" fill="#d03030"/>
<line x1="426" y1="417.5" x2="480" y2="417.5" stroke="#55585e" stroke-width="0.6"/>
<ellipse cx="434.5" cy="408.2" rx="3.5" ry="2.4" fill="#c83030"/><ellipse cx="434.5" cy="408.2" rx="2.4" ry="1.4" fill="#2a48d0"/>
<rect x="439.9" y="404.8" width="24.5" height="11.8" fill="#f2f2f2"/><rect x="440.8" y="405.6" width="22.7" height="10.2" fill="#7ff2da"/>
<rect x="437.7" y="421" width="5.4" height="2.4" rx="0.6" fill="#e6e6e6"/>
<rect x="445.6" y="424.1" width="5.4" height="2.4" rx="0.6" fill="#e6e6e6"/>
<rect x="453" y="424.1" width="5.4" height="2.4" rx="0.6" fill="#e6e6e6"/>
<rect x="460.9" y="421" width="5.4" height="2.4" rx="0.6" fill="#e6e6e6"/>
<rect x="441.6" y="428.4" width="34.6" height="5.7" fill="#3a3d42"/>
<rect x="442.2" y="429.6" width="33.4" height="1.2" fill="#8a8e94"/>
<rect x="441.6" y="435.9" width="34.6" height="5.2" fill="#2fae62"/>
<path d="M427.5,438.5 Q430,433.5 432.5,438.5" stroke="#bbb" stroke-width="0.9" fill="none"/>
<circle cx="452.5" cy="401.2" r="3" fill="#6aa8f2"/>
<rect x="422.5" y="445.0" width="62.5" height="16.2" rx="6.5" fill="#5d9bf0"/>
<text x="454.0" y="456.7" font-size="9.9" font-weight="bold" letter-spacing="-0.5" text-anchor="middle" fill="#fff" stroke="#fff" stroke-width="0.1" font-family="Liberation Sans, sans-serif">环境监控主机</text>
<rect x="273.5" y="313.0" width="76.0" height="16.5" rx="6.5" fill="#5d9bf0"/>
<text x="311.8" y="324.8" font-size="9.9" font-weight="bold" letter-spacing="-0.6" text-anchor="middle" fill="#fff" stroke="#fff" stroke-width="0.1" font-family="Liberation Sans, sans-serif">温湿度测点</text>
<rect x="353.5" y="278.3" width="56.0" height="15.7" rx="6.5" fill="#5d9bf0"/>
<text x="381.8" y="289.7" font-size="9.9" font-weight="bold" letter-spacing="-0.6" text-anchor="middle" fill="#fff" stroke="#fff" stroke-width="0.1" font-family="Liberation Sans, sans-serif">温湿度测点</text>
<rect x="413.5" y="237.0" width="53.5" height="16.0" rx="6.5" fill="#5d9bf0"/>
<text x="440.6" y="248.6" font-size="9.9" font-weight="bold" letter-spacing="-0.6" text-anchor="middle" fill="#fff" stroke="#fff" stroke-width="0.1" font-family="Liberation Sans, sans-serif">温湿度测点</text>
<rect x="560.0" y="422.3" width="52.0" height="16.3" rx="6.5" fill="#5d9bf0"/>
<text x="586.3" y="434.0" font-size="9.9" font-weight="bold" letter-spacing="-0.6" text-anchor="middle" fill="#fff" stroke="#fff" stroke-width="0.1" font-family="Liberation Sans, sans-serif">温湿度测点</text>
<rect x="627.8" y="395.5" width="51.9" height="16.3" rx="6.5" fill="#5d9bf0"/>
<text x="654.0" y="407.2" font-size="9.9" font-weight="bold" letter-spacing="-0.6" text-anchor="middle" fill="#fff" stroke="#fff" stroke-width="0.1" font-family="Liberation Sans, sans-serif">温湿度测点</text>
<rect x="694.0" y="357.0" width="53.0" height="16.3" rx="6.5" fill="#5d9bf0"/>
<text x="720.8" y="368.7" font-size="9.9" font-weight="bold" letter-spacing="-0.6" text-anchor="middle" fill="#fff" stroke="#fff" stroke-width="0.1" font-family="Liberation Sans, sans-serif">温湿度测点</text>
<polygon points="64.5,164.2 84.3,175.3 84.3,197.7 64.5,208.8 44.7,197.7 44.7,175.3" fill="#c4df45" stroke="#c4df45" stroke-width="12.4" stroke-linejoin="round"/>
<polygon points="165.0,164.2 184.8,175.3 184.8,197.7 165.0,208.8 145.2,197.7 145.2,175.3" fill="#2d86b9" stroke="#2d86b9" stroke-width="12.4" stroke-linejoin="round"/>
<polygon points="264.8,164.2 284.6,175.3 284.6,197.7 264.8,208.8 244.9,197.7 244.9,175.3" fill="#c4df45" stroke="#c4df45" stroke-width="12.4" stroke-linejoin="round"/>
<polygon points="64.5,261.7 84.3,272.9 84.3,295.1 64.5,306.3 44.7,295.1 44.7,272.9" fill="#2d86b9" stroke="#2d86b9" stroke-width="12.4" stroke-linejoin="round"/>
<polygon points="165.0,261.7 184.8,272.9 184.8,295.1 165.0,306.3 145.2,295.1 145.2,272.9" fill="#c4df45" stroke="#c4df45" stroke-width="12.4" stroke-linejoin="round"/>
<path d="M52.3,172 C54,171 56,171 57,172.5 L60.5,179.5 C61,181 60.5,182.5 59.5,183.5 C59,185 59.5,186 60.5,187 L64.5,191 C65.5,192 67,192 68.5,191 C70,190 71.5,190 73,191 L77,194 C79,195.5 79,198 77.5,199.5 C76,201 74.5,201.5 72,201 C65,199.5 58,194 54,187.5 C50.5,182 49,176 50.5,173.5 C51,172.8 51.5,172.3 52.3,172 Z" stroke="#111" stroke-width="1.75" fill="none" stroke-linecap="round" stroke-linejoin="round"/><path d="M67.3,173.2 A12.9,12.9 0 0 1 78.8,185.3" stroke="#111" stroke-width="1.75" fill="none" stroke-linecap="round" stroke-linejoin="round"/><path d="M66.6,177.6 A8.4,8.4 0 0 1 74.3,185" stroke="#111" stroke-width="1.75" fill="none" stroke-linecap="round" stroke-linejoin="round"/><path d="M66.5,182.6 A3.4,3.4 0 0 1 68.8,184.6" stroke="#111" stroke-width="1.75" fill="none" stroke-linecap="round" stroke-linejoin="round" stroke-width="0"/><path d="M66.2,182.4 A3.6,3.6 0 0 1 69.4,185 L66.6,185 Z" fill="#111"/>
<path d="M153.7,175.2 H178.6 Q180.8,175.2 180.8,177.4 V194.2 Q180.8,196.4 178.6,196.4 H161.5 L156.4,199.8 V196.4 H153.7 Q151.5,196.4 151.5,194.2 V177.4 Q151.5,175.2 153.7,175.2 Z" stroke="#111" stroke-width="1.8" fill="none" stroke-linecap="round" stroke-linejoin="round"/><circle cx="158" cy="185.6" r="1.65" fill="#111"/><circle cx="166.2" cy="185.6" r="1.65" fill="#111"/><circle cx="174.4" cy="185.6" r="1.65" fill="#111"/>
<path d="M255,191.5 L253,195.8 L258.5,193" fill="#c4df45" stroke="#111" stroke-width="1.9" stroke-linejoin="round"/><ellipse cx="260.9" cy="184" rx="11.3" ry="9.5" fill="#c4df45" stroke="#111" stroke-width="1.9" stroke-linejoin="round"/><path d="M276,197 L278.8,200.6 L273,198.6" fill="#c4df45" stroke="#111" stroke-width="1.9" stroke-linejoin="round"/><ellipse cx="272.1" cy="191.3" rx="9.5" ry="8.2" fill="#c4df45" stroke="#111" stroke-width="1.9" stroke-linejoin="round"/><circle cx="257.1" cy="181" r="1.45" fill="#111"/><circle cx="265" cy="181" r="1.45" fill="#111"/><circle cx="268.8" cy="188.9" r="1.3" fill="#111"/><circle cx="275.1" cy="188.9" r="1.3" fill="#111"/>
<g transform="translate(64.5,284)"><rect x="-13.6" y="-9.9" width="27.6" height="20.3" stroke="#111" stroke-width="1.7" fill="none" stroke-linecap="round" stroke-linejoin="round"/><path d="M-13.6,-9.9 L0.2,0.8 L14,-9.9" stroke="#111" stroke-width="1.7" fill="none" stroke-linecap="round" stroke-linejoin="round"/><path d="M-13.2,9.6 L-4.9,-2.6 M13.6,9.6 L5.2,-2.6" stroke="#111" stroke-width="1.7" fill="none" stroke-linecap="round" stroke-linejoin="round"/></g>
<g transform="translate(165,284)"><path d="M-9,14.6 V3 C-9,-3.5 -5,-7.3 1,-7.3 C7,-7.3 11,-3.5 11,3 V14.6" stroke="#111" stroke-width="1.9" fill="none" stroke-linecap="round" stroke-linejoin="round"/><path d="M-11.3,15 H12.8" stroke="#111" stroke-width="2.3" fill="none" stroke-linecap="round"/><path d="M0.8,-13 V-9.6 M-7.9,-9.6 L-5.8,-7.6 M9.6,-9.6 L7.4,-7.6 M-12.7,-3.1 H-9.6 M11.4,-3.1 H14.6" stroke="#111" stroke-width="1.9" fill="none" stroke-linecap="round" stroke-linejoin="round"/><path d="M2.8,-0.2 L-0.8,4.8 H2.6 L-0.9,9.8" stroke="#111" stroke-width="1.9" fill="none" stroke-linecap="round" stroke-linejoin="round"/></g>
<text x="66" y="236" font-family="Liberation Sans, sans-serif" font-size="18.5" fill="#222" text-anchor="middle">电话报警</text>
<text x="165.6" y="236" font-family="Liberation Sans, sans-serif" font-size="18.5" fill="#222" text-anchor="middle">短信报警</text>
<text x="266.2" y="236" font-family="Liberation Sans, sans-serif" font-size="18.5" fill="#222" text-anchor="middle">微信报警</text>
<text x="66" y="333.5" font-family="Liberation Sans, sans-serif" font-size="18.5" fill="#222" text-anchor="middle">邮件报警</text>
<text x="165.6" y="333.5" font-family="Liberation Sans, sans-serif" font-size="18.5" fill="#222" text-anchor="middle">声光报警</text>
<rect x="81.75" y="382.4" width="101.25" height="54" rx="2" fill="#141518"/>
<rect x="84" y="384.7" width="96.7" height="49.4" fill="#0f3759"/>
<rect x="84" y="384.7" width="96.7" height="3.6" fill="#f4f5f7"/>
<path d="M92,400 Q100,395 110,398 Q118,402 112,408 Q104,412 96,409 Z M125,392 Q140,390 150,396 Q146,404 134,403 Z M150,415 Q162,412 170,418 Q164,426 152,424 Z" fill="#184468" opacity="0.8"/>
<g stroke="#3fd0e8" stroke-width="0.7" opacity="0.85"><line x1="108" y1="420" x2="131" y2="404"/><line x1="110" y1="423" x2="133" y2="407"/><line x1="112" y1="426" x2="135" y2="410"/><line x1="106" y1="417" x2="129" y2="401"/><line x1="120" y1="424" x2="138" y2="412"/></g>
<rect x="144" y="402" width="20" height="15" fill="#3b5670" stroke="#6f93b0" stroke-width="0.5"/>
<rect x="148" y="406" width="13" height="1.4" fill="#d0dde8"/><rect x="148" y="409.5" width="13" height="1.4" fill="#d0dde8"/><rect x="148" y="413" width="13" height="1.6" fill="#2bb6c8"/>
<rect x="81.75" y="436.4" width="101.25" height="10" fill="#eceef0"/>
<polygon points="121,446.4 144,446.4 145,459 120,459" fill="#d0d3d6"/>
<rect x="117" y="458.5" width="31" height="3" fill="#c4c7ca"/>
<rect x="45.3" y="410.5" width="62.3" height="42" rx="2" fill="#141518"/>
<rect x="48" y="413.2" width="57" height="37" fill="#0f3759"/>
<rect x="48" y="413.2" width="57" height="3.2" fill="#f1f3f5"/>
<g stroke="#3fd0e8" stroke-width="0.6" opacity="0.85"><line x1="58" y1="442" x2="76" y2="430"/><line x1="60" y1="444" x2="78" y2="432"/><line x1="62" y1="446" x2="80" y2="434"/></g>
<rect x="86" y="425" width="15" height="12" fill="#3b5670" stroke="#6f93b0" stroke-width="0.5"/>
<rect x="89" y="428" width="9" height="1.2" fill="#d0dde8"/><rect x="89" y="431" width="9" height="1.2" fill="#d0dde8"/><rect x="89" y="434" width="9" height="1.3" fill="#2bb6c8"/>
<polygon points="42,452 111,452 116.6,461 114,464 39,464 36.3,461" fill="#d9dcdf"/>
<polygon points="50,452.5 103,452.5 105,455.5 48,455.5" fill="#45484c"/>
<rect x="66" y="459" width="20" height="2" fill="#b9bcc0"/>
<rect x="152.6" y="418.4" width="34.9" height="46.1" rx="3" fill="#141518"/>
<rect x="155.2" y="421.5" width="29.7" height="40" fill="#f4f6f9"/>
<rect x="155.2" y="421.5" width="29.7" height="15" fill="#2e8ae6"/>
<ellipse cx="170" cy="428" rx="7" ry="4" fill="#fff"/>
<rect x="159" y="442" width="20" height="2" fill="#c5d8ee"/><rect x="159" y="447" width="20" height="2" fill="#c5d8ee"/><rect x="159" y="454" width="20" height="3" fill="#2e8ae6"/>
<rect x="174.7" y="430.75" width="16.6" height="33.75" rx="2.5" fill="#141518"/>
<rect x="176.3" y="434" width="13.4" height="27" fill="#f4f6f9"/>
<rect x="176.3" y="434" width="13.4" height="10" fill="#2e8ae6"/>
<ellipse cx="183" cy="439" rx="4" ry="2.5" fill="#fff"/>
<rect x="178" y="456" width="10" height="2" fill="#2e8ae6"/>
<ellipse cx="115" cy="468" rx="80" ry="3" fill="#eef0f3" opacity="0.6"/>
<polygon points="39.8,508.5 131.6,507.6 126.8,576 33.7,571.3" fill="#2a2b2f"/>
<polygon points="131.6,507.6 133,508 128.2,576.3 126.8,576" fill="#9a9ca0"/>
<polygon points="42.3,510.5 129.4,509.6 125.2,571 37.2,567" fill="#fbfcfd"/>
<polygon points="42.3,510.5 129.4,509.6 129.3,511.3 42.2,512.2" fill="#d9e4f0"/>
<line x1="106.5" y1="511.5" x2="104" y2="569.5" stroke="#c9ced4" stroke-width="0.6"/>
<polygon points="107,514 128.7,513.8 128.5,516 107,516.2" fill="#e6eaee"/>
<rect x="42.5" y="515.3" width="6.8" height="1.9" fill="#2f6fd0"/>
<rect x="44.9" y="517.7" width="2" height="1.2" fill="#7fb08a"/>
<rect x="51.1" y="515.3" width="6.8" height="1.9" fill="#2f6fd0"/>
<rect x="53.5" y="517.7" width="2" height="1.2" fill="#7fb08a"/>
<rect x="59.7" y="515.3" width="6.8" height="1.9" fill="#2f6fd0"/>
<rect x="62.1" y="517.7" width="2" height="1.2" fill="#7fb08a"/>
<rect x="68.3" y="515.3" width="6.8" height="1.9" fill="#2f6fd0"/>
<rect x="70.7" y="517.7" width="2" height="1.2" fill="#7fb08a"/>
<rect x="76.9" y="515.3" width="6.8" height="1.9" fill="#2f6fd0"/>
<rect x="79.3" y="517.7" width="2" height="1.2" fill="#7fb08a"/>
<rect x="85.5" y="515.3" width="6.8" height="1.9" fill="#2f6fd0"/>
<rect x="87.9" y="517.7" width="2" height="1.2" fill="#7fb08a"/>
<rect x="94.1" y="515.3" width="6.8" height="1.9" fill="#2f6fd0"/>
<rect x="96.5" y="517.7" width="2" height="1.2" fill="#7fb08a"/>
<rect x="42.0" y="519.6" width="6.8" height="1.9" fill="#2f6fd0"/>
<rect x="44.4" y="522.0" width="2" height="1.2" fill="#7fb08a"/>
<rect x="50.6" y="519.6" width="6.8" height="1.9" fill="#2f6fd0"/>
<rect x="53.0" y="522.0" width="2" height="1.2" fill="#7fb08a"/>
<rect x="59.2" y="519.6" width="6.8" height="1.9" fill="#2f6fd0"/>
<rect x="61.6" y="522.0" width="2" height="1.2" fill="#7fb08a"/>
<rect x="67.8" y="519.6" width="6.8" height="1.9" fill="#2f6fd0"/>
<rect x="70.2" y="522.0" width="2" height="1.2" fill="#7fb08a"/>
<rect x="76.5" y="519.6" width="6.8" height="1.9" fill="#2f6fd0"/>
<rect x="78.9" y="522.0" width="2" height="1.2" fill="#7fb08a"/>
<rect x="85.0" y="519.6" width="6.8" height="1.9" fill="#2f6fd0"/>
<rect x="87.5" y="522.0" width="2" height="1.2" fill="#7fb08a"/>
<rect x="93.6" y="519.6" width="6.8" height="1.9" fill="#2f6fd0"/>
<rect x="96.0" y="522.0" width="2" height="1.2" fill="#7fb08a"/>
<rect x="41.6" y="523.9" width="6.8" height="1.9" fill="#2f6fd0"/>
<rect x="44.0" y="526.3" width="2" height="1.2" fill="#7fb08a"/>
<rect x="50.2" y="523.9" width="6.8" height="1.9" fill="#2f6fd0"/>
<rect x="52.6" y="526.3" width="2" height="1.2" fill="#7fb08a"/>
<rect x="41.1" y="528.2" width="6.8" height="1.9" fill="#2f6fd0"/>
<rect x="43.5" y="530.6" width="2" height="1.2" fill="#7fb08a"/>
<rect x="49.8" y="528.2" width="6.8" height="1.9" fill="#2f6fd0"/>
<rect x="52.1" y="530.6" width="2" height="1.2" fill="#7fb08a"/>
<rect x="109" y="516.5" width="5" height="1.3" fill="#e0a040"/>
<rect x="109" y="519" width="5" height="1.3" fill="#e0a040"/>
<rect x="109" y="522" width="5" height="1.3" fill="#e0a040"/>
<rect x="109" y="525" width="5" height="1.3" fill="#e0a040"/>
<ellipse cx="94.5" cy="567.5" rx="2.2" ry="1.4" fill="#345"/><ellipse cx="120" cy="568.5" rx="2.2" ry="1.4" fill="#345"/>
<rect x="108" y="570" width="10" height="1" fill="#3a64c8"/>
<rect x="71" y="572.5" width="5" height="1.2" fill="#ccc"/>
<polygon points="76,576 94,577 93.5,590 76.5,589" fill="#1f2023"/>
<ellipse cx="82" cy="591.5" rx="24" ry="5.2" fill="#1c1d20"/>
<ellipse cx="82" cy="590.2" rx="21" ry="3.3" fill="#34363a"/>
<polygon points="131.25,516 145,512.5 145,595 131.25,592" fill="#2a2b2f"/>
<polygon points="145,512.5 171,513 173.75,516 173.75,595 145,595" fill="#141518"/>
<polygon points="147.5,517 171.5,517.5 171.5,551 147.5,552" fill="#1e2024"/>
<line x1="147.5" y1="528" x2="171.5" y2="528" stroke="#2c2e33" stroke-width="0.6"/>
<line x1="147.5" y1="539" x2="171.5" y2="539" stroke="#2c2e33" stroke-width="0.6"/>
<rect x="156" y="556" width="8" height="1.6" fill="#dcdcdc"/>
<polygon points="147.5,560 171.5,560 171.5,583 147.5,583" fill="#1b1c20"/>
<circle cx="160" cy="568.5" r="2.4" fill="#d8d8d8"/><circle cx="160" cy="568.5" r="1.2" fill="#444"/>
<path d="M147.5,585 Q160,581 171.5,585" stroke="#3a3c40" stroke-width="0.8" fill="none"/>
<rect x="169" y="543" width="1.4" height="1.4" fill="#50d050"/><rect x="169" y="546" width="1.4" height="1.4" fill="#e04040"/>
<polygon points="113,581 124,579 126,590 115,592" fill="#26272a"/>
<polygon points="242.5,548 264,530 283,536.5 284,553 249,568 243.5,562" fill="#c4c8ca"/>
<polygon points="242.5,548 264,530 283,536.5 261,554" fill="#dde0e2"/>
<polygon points="261,554 283,536.5 284,553 262,568" fill="#b3b8bb"/>
<polygon points="242.5,548 261,554 262,568 243.5,562" fill="#cdd1d3"/>
<polygon points="262,545 275,536 281,538 268,550" fill="#1c2a55"/>
<polygon points="250,544 260,536.5 263,538 253,546" fill="#2a4ea8"/>
<polygon points="249.5,551.5 261,555 261.5,563.5 250,560" fill="#45a868"/>
<circle cx="265.5" cy="531" r="1.5" fill="#d8dcde" stroke="#9aa0a4" stroke-width="0.5"/>
<circle cx="282" cy="537.5" r="1.5" fill="#d8dcde" stroke="#9aa0a4" stroke-width="0.5"/>
<polygon points="249,564 253,565.5 253,568 249,566.5" fill="#c4c8ca"/>
</svg>
</body></html>
